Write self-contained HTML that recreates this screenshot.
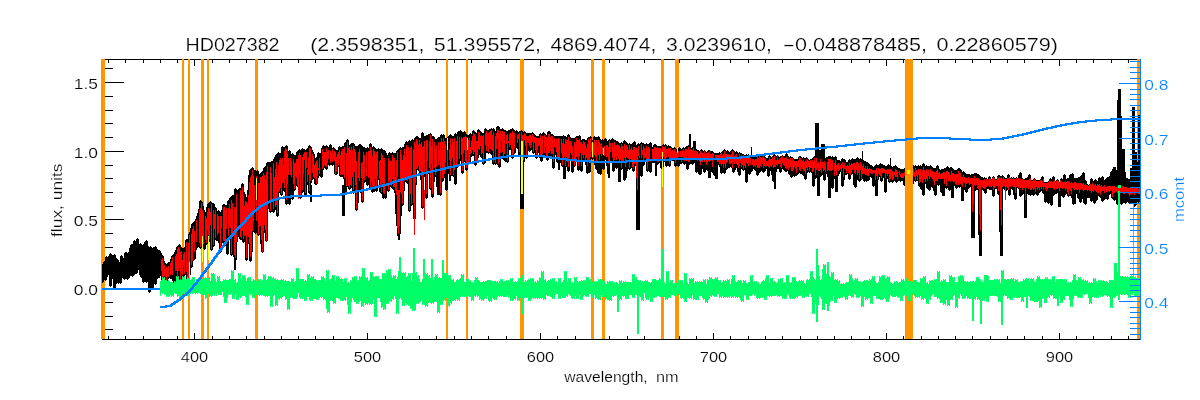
<!DOCTYPE html>
<html lang="en"><head><meta charset="utf-8"><title>HD027382</title>
<style>html,body{margin:0;padding:0;background:#fff;overflow:hidden}svg{display:block}</style></head>
<body>
<svg width="1200" height="400" viewBox="0 0 1200 400" role="img" aria-label="HD027382 spectrum fit">
<rect width="1200" height="400" fill="#fff"/>
<g fill="#000" shape-rendering="crispEdges">
<rect x="102" y="59" width="1038" height="1"/>
<rect x="102" y="339" width="1039" height="1"/>
<rect x="102" y="59" width="1" height="280"/>
<rect x="108" y="59" width="1" height="4"/>
<rect x="108" y="336" width="1" height="3"/>
<rect x="125" y="59" width="1" height="4"/>
<rect x="125" y="336" width="1" height="3"/>
<rect x="143" y="59" width="1" height="4"/>
<rect x="143" y="336" width="1" height="3"/>
<rect x="160" y="59" width="1" height="4"/>
<rect x="160" y="336" width="1" height="3"/>
<rect x="177" y="59" width="1" height="4"/>
<rect x="177" y="336" width="1" height="3"/>
<rect x="194" y="59" width="1" height="7"/>
<rect x="194" y="333" width="1" height="6"/>
<rect x="212" y="59" width="1" height="4"/>
<rect x="212" y="336" width="1" height="3"/>
<rect x="229" y="59" width="1" height="4"/>
<rect x="229" y="336" width="1" height="3"/>
<rect x="246" y="59" width="1" height="4"/>
<rect x="246" y="336" width="1" height="3"/>
<rect x="264" y="59" width="1" height="4"/>
<rect x="264" y="336" width="1" height="3"/>
<rect x="281" y="59" width="1" height="4"/>
<rect x="281" y="336" width="1" height="3"/>
<rect x="298" y="59" width="1" height="4"/>
<rect x="298" y="336" width="1" height="3"/>
<rect x="315" y="59" width="1" height="4"/>
<rect x="315" y="336" width="1" height="3"/>
<rect x="333" y="59" width="1" height="4"/>
<rect x="333" y="336" width="1" height="3"/>
<rect x="350" y="59" width="1" height="4"/>
<rect x="350" y="336" width="1" height="3"/>
<rect x="367" y="59" width="1" height="7"/>
<rect x="367" y="333" width="1" height="6"/>
<rect x="385" y="59" width="1" height="4"/>
<rect x="385" y="336" width="1" height="3"/>
<rect x="402" y="59" width="1" height="4"/>
<rect x="402" y="336" width="1" height="3"/>
<rect x="419" y="59" width="1" height="4"/>
<rect x="419" y="336" width="1" height="3"/>
<rect x="436" y="59" width="1" height="4"/>
<rect x="436" y="336" width="1" height="3"/>
<rect x="454" y="59" width="1" height="4"/>
<rect x="454" y="336" width="1" height="3"/>
<rect x="471" y="59" width="1" height="4"/>
<rect x="471" y="336" width="1" height="3"/>
<rect x="488" y="59" width="1" height="4"/>
<rect x="488" y="336" width="1" height="3"/>
<rect x="506" y="59" width="1" height="4"/>
<rect x="506" y="336" width="1" height="3"/>
<rect x="523" y="59" width="1" height="4"/>
<rect x="523" y="336" width="1" height="3"/>
<rect x="540" y="59" width="1" height="7"/>
<rect x="540" y="333" width="1" height="6"/>
<rect x="557" y="59" width="1" height="4"/>
<rect x="557" y="336" width="1" height="3"/>
<rect x="575" y="59" width="1" height="4"/>
<rect x="575" y="336" width="1" height="3"/>
<rect x="592" y="59" width="1" height="4"/>
<rect x="592" y="336" width="1" height="3"/>
<rect x="609" y="59" width="1" height="4"/>
<rect x="609" y="336" width="1" height="3"/>
<rect x="627" y="59" width="1" height="4"/>
<rect x="627" y="336" width="1" height="3"/>
<rect x="644" y="59" width="1" height="4"/>
<rect x="644" y="336" width="1" height="3"/>
<rect x="661" y="59" width="1" height="4"/>
<rect x="661" y="336" width="1" height="3"/>
<rect x="679" y="59" width="1" height="4"/>
<rect x="679" y="336" width="1" height="3"/>
<rect x="696" y="59" width="1" height="4"/>
<rect x="696" y="336" width="1" height="3"/>
<rect x="713" y="59" width="1" height="7"/>
<rect x="713" y="333" width="1" height="6"/>
<rect x="730" y="59" width="1" height="4"/>
<rect x="730" y="336" width="1" height="3"/>
<rect x="748" y="59" width="1" height="4"/>
<rect x="748" y="336" width="1" height="3"/>
<rect x="765" y="59" width="1" height="4"/>
<rect x="765" y="336" width="1" height="3"/>
<rect x="782" y="59" width="1" height="4"/>
<rect x="782" y="336" width="1" height="3"/>
<rect x="800" y="59" width="1" height="4"/>
<rect x="800" y="336" width="1" height="3"/>
<rect x="817" y="59" width="1" height="4"/>
<rect x="817" y="336" width="1" height="3"/>
<rect x="834" y="59" width="1" height="4"/>
<rect x="834" y="336" width="1" height="3"/>
<rect x="851" y="59" width="1" height="4"/>
<rect x="851" y="336" width="1" height="3"/>
<rect x="869" y="59" width="1" height="4"/>
<rect x="869" y="336" width="1" height="3"/>
<rect x="886" y="59" width="1" height="7"/>
<rect x="886" y="333" width="1" height="6"/>
<rect x="903" y="59" width="1" height="4"/>
<rect x="903" y="336" width="1" height="3"/>
<rect x="921" y="59" width="1" height="4"/>
<rect x="921" y="336" width="1" height="3"/>
<rect x="938" y="59" width="1" height="4"/>
<rect x="938" y="336" width="1" height="3"/>
<rect x="955" y="59" width="1" height="4"/>
<rect x="955" y="336" width="1" height="3"/>
<rect x="972" y="59" width="1" height="4"/>
<rect x="972" y="336" width="1" height="3"/>
<rect x="990" y="59" width="1" height="4"/>
<rect x="990" y="336" width="1" height="3"/>
<rect x="1007" y="59" width="1" height="4"/>
<rect x="1007" y="336" width="1" height="3"/>
<rect x="1024" y="59" width="1" height="4"/>
<rect x="1024" y="336" width="1" height="3"/>
<rect x="1042" y="59" width="1" height="4"/>
<rect x="1042" y="336" width="1" height="3"/>
<rect x="1059" y="59" width="1" height="7"/>
<rect x="1059" y="333" width="1" height="6"/>
<rect x="1076" y="59" width="1" height="4"/>
<rect x="1076" y="336" width="1" height="3"/>
<rect x="1093" y="59" width="1" height="4"/>
<rect x="1093" y="336" width="1" height="3"/>
<rect x="1111" y="59" width="1" height="4"/>
<rect x="1111" y="336" width="1" height="3"/>
<rect x="1128" y="59" width="1" height="4"/>
<rect x="1128" y="336" width="1" height="3"/>
<rect x="102" y="329" width="11" height="1"/>
<rect x="102" y="316" width="11" height="1"/>
<rect x="102" y="302" width="11" height="1"/>
<rect x="102" y="288" width="22" height="1"/>
<rect x="102" y="274" width="11" height="1"/>
<rect x="102" y="261" width="11" height="1"/>
<rect x="102" y="247" width="11" height="1"/>
<rect x="102" y="233" width="11" height="1"/>
<rect x="102" y="219" width="22" height="1"/>
<rect x="102" y="206" width="11" height="1"/>
<rect x="102" y="192" width="11" height="1"/>
<rect x="102" y="178" width="11" height="1"/>
<rect x="102" y="165" width="11" height="1"/>
<rect x="102" y="151" width="22" height="1"/>
<rect x="102" y="137" width="11" height="1"/>
<rect x="102" y="123" width="11" height="1"/>
<rect x="102" y="110" width="11" height="1"/>
<rect x="102" y="96" width="11" height="1"/>
<rect x="102" y="82" width="22" height="1"/>
<rect x="102" y="68" width="11" height="1"/>
</g>
<g fill="#ff9500" shape-rendering="crispEdges">
<rect x="101" y="59" width="4" height="280"/>
<rect x="182" y="59" width="2" height="280"/>
<rect x="188" y="59" width="2" height="280"/>
<rect x="201" y="59" width="3" height="280"/>
<rect x="207" y="59" width="2" height="280"/>
<rect x="255" y="59" width="3" height="280"/>
<rect x="446" y="59" width="2" height="280"/>
<rect x="466" y="59" width="2" height="280"/>
<rect x="520" y="59" width="4" height="280"/>
<rect x="591" y="59" width="3" height="280"/>
<rect x="602" y="59" width="3" height="280"/>
<rect x="661" y="59" width="3" height="280"/>
<rect x="675" y="59" width="4" height="280"/>
<rect x="905" y="59" width="8" height="280"/>
<rect x="1137" y="59" width="4" height="280"/>
</g>
<g fill="none" shape-rendering="crispEdges">
<path d="M102.5 264V283M103.5 262V282M104.5 261V280M105.5 257V281M106.5 256V280M107.5 257V277M108.5 256V275M109.5 254V286M110.5 253V287M111.5 254V286M112.5 255V279M113.5 255V288M114.5 254V289M115.5 255V288M116.5 258V284M117.5 259V283M118.5 260V284M119.5 262V283M120.5 256V284M121.5 255V283M122.5 256V278M123.5 258V279M124.5 253V280M125.5 252V279M126.5 252V279M127.5 253V280M128.5 252V279M129.5 248V278M130.5 245V276M131.5 244V276M132.5 244V277M133.5 241V276M134.5 240V275M135.5 241V274M136.5 239V274M137.5 238V273M138.5 239V270M139.5 244V275M140.5 243V277M141.5 244V278M142.5 245V282M143.5 244V283M144.5 242V282M145.5 241V282M146.5 240V283M147.5 241V282M148.5 246V292M149.5 247V293M150.5 246V292M151.5 247V289M152.5 248V290M153.5 247V289M154.5 247V284M155.5 246V285M156.5 247V284M157.5 249V279M158.5 250V278M159.5 250V278M160.5 251V276M161.5 253V287M162.5 255V288M163.5 256V287M164.5 261V282M165.5 263V285M166.5 264V286M167.5 263V285M168.5 262V279M169.5 262V278M170.5 259V279M171.5 256V279M172.5 255V281M173.5 254V284M174.5 252V285M175.5 250V284M176.5 247V277M177.5 246V278M178.5 245V277M179.5 244V285M180.5 245V286M181.5 247V285M182.5 248V278M183.5 248V277M184.5 247V276M185.5 240V275M186.5 239V283M187.5 239V285M188.5 234V286M189.5 232V285M190.5 228V275M191.5 224V268M192.5 223V267M193.5 222V261M194.5 221V260M195.5 219V259M196.5 216V250M197.5 213V248M198.5 209V247M199.5 201V248M200.5 200V249M201.5 201V248M202.5 202V248M203.5 206V249M204.5 210V250M205.5 212V249M206.5 207V245M207.5 204V244M208.5 203V241M209.5 202V242M210.5 201V250M211.5 202V251M212.5 203V250M213.5 203V247M214.5 204V246M215.5 207V240M216.5 208V241M217.5 211V241M218.5 210V243M219.5 211V252M220.5 212V253M221.5 210V252M222.5 205V243M223.5 204V246M224.5 204V247M225.5 205V246M226.5 205V254M227.5 201V255M228.5 200V254M229.5 198V237M230.5 197V255M231.5 196V256M232.5 195V255M233.5 195V257M234.5 189V260M235.5 188V261M236.5 189V260M237.5 190V242M238.5 189V237M239.5 188V239M240.5 188V240M241.5 184V240M242.5 183V242M243.5 184V243M244.5 192V242M245.5 194V260M246.5 197V261M247.5 190V260M248.5 175V244M249.5 170V261M250.5 169V262M251.5 168V261M252.5 167V252M253.5 168V232M254.5 170V233M255.5 170V234M256.5 171V233M257.5 170V235M258.5 171V236M259.5 174V235M260.5 173V244M261.5 172V252M262.5 171V253M263.5 168V252M264.5 167V233M265.5 166V241M266.5 163V242M267.5 162V241M268.5 162V209M269.5 162V212M270.5 162V213M271.5 161V212M272.5 161V212M273.5 159V213M274.5 157V212M275.5 155V210M276.5 154V216M277.5 153V217M278.5 152V216M279.5 153V193M280.5 153V195M281.5 147V196M282.5 146V195M283.5 147V191M284.5 147V192M285.5 146V204M286.5 145V205M287.5 146V204M288.5 151V204M289.5 150V205M290.5 151V204M291.5 154V199M292.5 153V200M293.5 154V199M294.5 155V191M295.5 155V190M296.5 152V186M297.5 151V187M298.5 150V186M299.5 149V198M300.5 150V199M301.5 149V198M302.5 148V193M303.5 149V192M304.5 149V195M305.5 150V196M306.5 149V195M307.5 148V185M308.5 146V193M309.5 145V194M310.5 146V193M311.5 147V183M312.5 150V180M313.5 152V179M314.5 154V184M315.5 158V185M316.5 157V185M317.5 153V184M318.5 152V178M319.5 153V176M320.5 153V177M321.5 148V178M322.5 146V177M323.5 145V170M324.5 146V168M325.5 146V169M326.5 145V170M327.5 146V169M328.5 147V165M329.5 145V166M330.5 144V165M331.5 145V165M332.5 148V166M333.5 147V165M334.5 148V174M335.5 149V175M336.5 150V175M337.5 150V174M338.5 147V167M339.5 146V176M340.5 147V177M341.5 147V177M342.5 146V177M343.5 146V179M344.5 143V193M345.5 142V194M346.5 140V193M347.5 139V187M348.5 140V189M349.5 145V190M350.5 144V189M351.5 143V188M352.5 143V193M353.5 143V194M354.5 144V193M355.5 146V210M356.5 146V211M357.5 146V210M358.5 145V203M359.5 144V192M360.5 144V193M361.5 145V202M362.5 146V203M363.5 147V202M364.5 147V183M365.5 148V182M366.5 148V185M367.5 147V186M368.5 148V185M369.5 144V189M370.5 143V190M371.5 144V192M372.5 147V193M373.5 146V192M374.5 147V192M375.5 148V191M376.5 149V192M377.5 149V191M378.5 148V180M379.5 149V192M380.5 149V193M381.5 148V194M382.5 149V198M383.5 150V199M384.5 150V198M385.5 151V199M386.5 153V198M387.5 155V191M388.5 153V192M389.5 152V191M390.5 153V187M391.5 153V188M392.5 152V189M393.5 153V190M394.5 153V193M395.5 153V198M396.5 151V199M397.5 150V198M398.5 149V202M399.5 148V203M400.5 147V202M401.5 148V205M402.5 147V206M403.5 147V205M404.5 144V191M405.5 142V182M406.5 141V183M407.5 142V184M408.5 141V211M409.5 140V212M410.5 141V211M411.5 140V206M412.5 139V205M413.5 140V208M414.5 138V209M415.5 137V208M416.5 136V185M417.5 136V170M418.5 137V171M419.5 138V173M420.5 138V180M421.5 133V208M422.5 132V209M423.5 133V208M424.5 136V177M425.5 136V198M426.5 135V199M427.5 135V198M428.5 134V174M429.5 134V189M430.5 133V190M431.5 134V197M432.5 136V198M433.5 136V197M434.5 137V182M435.5 139V177M436.5 139V187M437.5 138V188M438.5 137V187M439.5 137V195M440.5 135V196M441.5 134V195M442.5 135V182M443.5 134V181M444.5 135V178M445.5 138V190M446.5 138V191M447.5 137V190M448.5 136V174M449.5 135V176M450.5 134V177M451.5 135V176M452.5 136V176M453.5 136V177M454.5 134V184M455.5 133V185M456.5 134V184M457.5 132V168M458.5 131V167M459.5 131V166M460.5 130V161M461.5 131V173M462.5 132V174M463.5 132V173M464.5 131V162M465.5 132V170M466.5 134V171M467.5 135V170M468.5 135V165M469.5 134V164M470.5 133V162M471.5 134V157M472.5 131V156M473.5 130V156M474.5 131V165M475.5 132V166M476.5 133V165M477.5 130V163M478.5 129V158M479.5 130V155M480.5 131V157M481.5 132V158M482.5 133V164M483.5 133V165M484.5 129V164M485.5 128V163M486.5 129V153M487.5 130V153M488.5 130V154M489.5 129V153M490.5 129V154M491.5 128V155M492.5 129V164M493.5 128V165M494.5 129V164M495.5 131V165M496.5 127V164M497.5 126V165M498.5 126V167M499.5 127V168M500.5 129V167M501.5 129V156M502.5 128V159M503.5 129V160M504.5 130V161M505.5 130V162M506.5 131V162M507.5 131V163M508.5 130V162M509.5 130V150M510.5 129V150M511.5 129V158M512.5 128V159M513.5 129V158M514.5 130V154M515.5 131V153M516.5 130V148M517.5 131V149M518.5 132V155M519.5 131V156M520.5 131V155M521.5 130V152M522.5 131V162M523.5 132V163M524.5 131V162M525.5 132V158M526.5 133V159M527.5 133V158M528.5 133V151M529.5 133V152M530.5 133V151M531.5 133V150M532.5 132V153M533.5 133V154M534.5 134V153M535.5 135V158M536.5 136V159M537.5 136V158M538.5 136V153M539.5 134V158M540.5 133V161M541.5 134V162M542.5 133V161M543.5 132V157M544.5 133V158M545.5 134V158M546.5 135V160M547.5 132V161M548.5 131V160M549.5 131V157M550.5 132V156M551.5 134V157M552.5 134V168M553.5 135V169M554.5 136V168M555.5 136V155M556.5 136V162M557.5 136V163M558.5 136V163M559.5 136V162M560.5 136V163M561.5 136V166M562.5 136V167M563.5 135V168M564.5 136V167M565.5 136V168M566.5 137V167M567.5 135V171M568.5 134V172M569.5 135V171M570.5 137V161M571.5 138V172M572.5 138V173M573.5 138V172M574.5 138V167M575.5 137V166M576.5 136V160M577.5 136V170M578.5 136V171M579.5 135V170M580.5 136V171M581.5 140V172M582.5 139V171M583.5 139V160M584.5 139V162M585.5 140V165M586.5 140V173M587.5 138V174M588.5 137V173M589.5 137V173M590.5 136V172M591.5 137V159M592.5 140V160M593.5 137V159M594.5 136V165M595.5 137V169M596.5 137V170M597.5 137V173M598.5 136V174M599.5 137V174M600.5 139V175M601.5 140V174M602.5 139V169M603.5 140V170M604.5 139V169M605.5 138V160M606.5 139V166M607.5 141V174M608.5 140V175M609.5 139V174M610.5 140V162M611.5 139V161M612.5 138V171M613.5 139V172M614.5 140V171M615.5 140V168M616.5 141V169M617.5 141V168M618.5 142V166M619.5 143V170M620.5 143V171M621.5 142V170M622.5 143V169M623.5 141V180M624.5 140V181M625.5 141V180M626.5 142V172M627.5 143V171M628.5 144V169M629.5 143V170M630.5 144V169M631.5 144V168M632.5 143V171M633.5 142V172M634.5 141V171M635.5 142V166M636.5 145V165M637.5 144V162M638.5 143V161M639.5 144V169M640.5 143V176M641.5 142V177M642.5 143V176M643.5 143V166M644.5 144V165M645.5 144V160M646.5 143V171M647.5 144V172M648.5 144V171M649.5 143V172M650.5 142V173M651.5 143V172M652.5 147V163M653.5 145V163M654.5 144V163M655.5 144V165M656.5 145V166M657.5 146V165M658.5 146V164M659.5 146V163M660.5 146V168M661.5 146V169M662.5 145V168M663.5 144V167M664.5 145V162M665.5 144V166M666.5 145V167M667.5 146V166M668.5 145V166M669.5 146V167M670.5 146V166M671.5 147V160M672.5 148V161M673.5 148V161M674.5 147V166M675.5 148V167M676.5 149V166M677.5 149V166M678.5 148V167M679.5 147V166M680.5 148V164M681.5 149V164M682.5 148V163M683.5 147V164M684.5 148V165M685.5 147V164M686.5 146V169M687.5 146V170M688.5 145V169M689.5 146V165M690.5 148V164M691.5 148V164M692.5 147V165M693.5 146V164M694.5 147V163M695.5 149V172M696.5 149V173M697.5 150V172M698.5 150V174M699.5 151V175M700.5 150V175M701.5 149V174M702.5 150V169M703.5 151V172M704.5 150V173M705.5 151V172M706.5 152V170M707.5 151V171M708.5 150V170M709.5 150V169M710.5 151V170M711.5 151V172M712.5 151V173M713.5 152V175M714.5 153V176M715.5 153V175M716.5 153V169M717.5 153V165M718.5 153V165M719.5 152V167M720.5 153V173M721.5 152V174M722.5 151V173M723.5 150V173M724.5 149V174M725.5 150V173M726.5 151V170M727.5 150V169M728.5 151V168M729.5 152V168M730.5 151V167M731.5 150V168M732.5 149V172M733.5 150V173M734.5 151V172M735.5 152V170M736.5 151V168M737.5 152V172M738.5 153V175M739.5 152V176M740.5 153V175M741.5 153V169M742.5 154V170M743.5 154V171M744.5 155V170M745.5 155V182M746.5 154V183M747.5 155V182M748.5 154V174M749.5 155V175M750.5 156V174M751.5 156V172M752.5 157V171M753.5 157V169M754.5 157V170M755.5 157V171M756.5 156V175M757.5 155V176M758.5 155V175M759.5 154V173M760.5 155V172M761.5 156V171M762.5 155V172M763.5 154V173M764.5 155V172M765.5 157V171M766.5 158V169M767.5 158V176M768.5 156V177M769.5 155V176M770.5 156V171M771.5 157V175M772.5 156V181M773.5 155V182M774.5 154V181M775.5 155V173M776.5 156V172M777.5 155V169M778.5 156V169M779.5 157V172M780.5 156V173M781.5 156V172M782.5 155V169M783.5 156V170M784.5 156V171M785.5 154V172M786.5 153V172M787.5 154V171M788.5 156V174M789.5 157V175M790.5 156V177M791.5 157V178M792.5 157V177M793.5 158V176M794.5 159V177M795.5 159V176M796.5 159V176M797.5 159V175M798.5 157V174M799.5 156V173M800.5 156V174M801.5 157V174M802.5 158V175M803.5 157V176M804.5 158V179M805.5 158V180M806.5 157V179M807.5 158V173M808.5 159V172M809.5 160V173M810.5 159V172M811.5 159V173M812.5 158V186M813.5 157V187M814.5 156V186M815.5 157V179M816.5 156V178M817.5 157V174M818.5 160V174M819.5 157V176M820.5 156V177M821.5 157V176M822.5 159V175M823.5 159V180M824.5 158V181M825.5 158V180M826.5 157V174M827.5 157V177M828.5 156V178M829.5 156V177M830.5 156V178M831.5 157V188M832.5 156V189M833.5 157V188M834.5 157V179M835.5 156V178M836.5 157V178M837.5 160V177M838.5 160V176M839.5 160V174M840.5 161V172M841.5 159V186M842.5 158V187M843.5 159V186M844.5 159V180M845.5 160V175M846.5 162V175M847.5 162V174M848.5 160V179M849.5 159V180M850.5 160V179M851.5 159V175M852.5 158V174M853.5 159V185M854.5 159V187M855.5 159V188M856.5 158V187M857.5 157V180M858.5 158V181M859.5 159V182M860.5 158V181M861.5 159V180M862.5 161V179M863.5 160V181M864.5 161V182M865.5 161V181M866.5 162V182M867.5 162V181M868.5 163V181M869.5 164V180M870.5 165V177M871.5 165V178M872.5 166V186M873.5 167V187M874.5 166V186M875.5 165V184M876.5 164V183M877.5 165V181M878.5 165V180M879.5 164V177M880.5 163V181M881.5 164V182M882.5 164V181M883.5 165V178M884.5 165V192M885.5 166V193M886.5 166V192M887.5 165V179M888.5 164V182M889.5 165V183M890.5 165V182M891.5 166V182M892.5 167V183M893.5 166V182M894.5 166V181M895.5 165V182M896.5 166V183M897.5 167V182M898.5 168V181M899.5 168V181M900.5 169V182M901.5 169V181M902.5 169V181M903.5 169V185M904.5 168V186M905.5 169V190M906.5 169V191M907.5 168V190M908.5 168V191M909.5 167V192M910.5 167V191M911.5 168V184M912.5 166V185M913.5 165V184M914.5 166V181M915.5 165V182M916.5 166V181M917.5 166V181M918.5 165V186M919.5 166V187M920.5 165V189M921.5 166V190M922.5 164V195M923.5 163V196M924.5 164V195M925.5 166V184M926.5 165V188M927.5 166V189M928.5 166V190M929.5 166V191M930.5 165V190M931.5 166V187M932.5 167V188M933.5 168V191M934.5 168V195M935.5 168V196M936.5 166V195M937.5 165V185M938.5 166V186M939.5 169V185M940.5 170V192M941.5 169V193M942.5 169V192M943.5 169V185M944.5 168V186M945.5 168V188M946.5 167V189M947.5 166V188M948.5 167V190M949.5 168V191M950.5 167V190M951.5 167V184M952.5 168V184M953.5 169V185M954.5 170V186M955.5 170V188M956.5 170V189M957.5 169V188M958.5 168V187M959.5 168V188M960.5 169V187M961.5 170V189M962.5 172V190M963.5 171V191M964.5 172V190M965.5 173V192M966.5 174V193M967.5 174V192M968.5 174V189M969.5 174V188M970.5 175V187M971.5 174V186M972.5 174V187M973.5 174V186M974.5 173V190M975.5 173V191M976.5 173V190M977.5 174V190M978.5 174V191M979.5 175V191M980.5 176V190M981.5 177V190M982.5 177V190M983.5 178V191M984.5 177V193M985.5 178V194M986.5 178V193M987.5 179V189M988.5 177V189M989.5 176V190M990.5 177V190M991.5 179V190M992.5 177V196M993.5 176V197M994.5 177V196M995.5 179V189M996.5 179V189M997.5 176V194M998.5 175V195M999.5 175V194M1000.5 176V193M1001.5 176V192M1002.5 175V190M1003.5 176V189M1004.5 177V190M1005.5 178V191M1006.5 178V191M1007.5 175V190M1008.5 174V195M1009.5 175V196M1010.5 178V195M1011.5 177V189M1012.5 178V190M1013.5 177V195M1014.5 178V199M1015.5 178V200M1016.5 177V199M1017.5 178V188M1018.5 175V189M1019.5 173V196M1020.5 172V197M1021.5 173V196M1022.5 178V195M1023.5 179V194M1024.5 179V191M1025.5 178V190M1026.5 178V191M1027.5 177V194M1028.5 175V195M1029.5 174V195M1030.5 175V196M1031.5 180V195M1032.5 180V195M1033.5 179V196M1034.5 178V195M1035.5 179V194M1036.5 180V195M1037.5 180V196M1038.5 180V195M1039.5 180V193M1040.5 179V192M1041.5 177V191M1042.5 176V193M1043.5 177V194M1044.5 182V202M1045.5 182V203M1046.5 182V202M1047.5 182V203M1048.5 181V204M1049.5 179V203M1050.5 178V205M1051.5 179V206M1052.5 177V205M1053.5 176V196M1054.5 177V195M1055.5 181V194M1056.5 180V194M1057.5 179V193M1058.5 180V192M1059.5 182V193M1060.5 179V195M1061.5 178V196M1062.5 179V197M1063.5 175V198M1064.5 174V197M1065.5 175V195M1066.5 179V194M1067.5 178V196M1068.5 178V197M1069.5 175V196M1070.5 174V196M1071.5 174V198M1072.5 173V204M1073.5 174V205M1074.5 178V204M1075.5 178V193M1076.5 178V194M1077.5 178V198M1078.5 177V199M1079.5 177V202M1080.5 176V203M1081.5 175V202M1082.5 173V199M1083.5 172V203M1084.5 173V204M1085.5 180V205M1086.5 181V204M1087.5 184V198M1088.5 185V198M1089.5 184V198M1090.5 179V201M1091.5 178V202M1092.5 179V201M1093.5 181V203M1094.5 180V204M1095.5 179V203M1096.5 180V201M1097.5 181V200M1098.5 178V196M1099.5 177V197M1100.5 178V198M1101.5 177V201M1102.5 176V202M1103.5 177V201M1104.5 180V200M1105.5 179V199M1106.5 178V199M1107.5 177V200M1108.5 177V199M1109.5 176V195M1110.5 176V194M1111.5 171V198M1112.5 169V199M1113.5 168V200M1114.5 169V201M1115.5 171V200M1116.5 170V204M1117.5 171V205M1118.5 171V204M1119.5 170V203M1120.5 171V204M1121.5 177V205M1122.5 177V204M1123.5 172V203M1124.5 171V203M1125.5 172V204M1126.5 178V203M1127.5 178V202M1128.5 179V203M1129.5 179V204M1130.5 178V203M1131.5 177V204M1132.5 176V203M1133.5 177V206M1134.5 180V207M1135.5 178V206M1136.5 177V205M1137.5 178V202M1138.5 184V203M1139.5 183V202M1140.5 182V196" stroke="#000" stroke-width="1"/>
<path d="M637.5 150V230" stroke="#000" stroke-width="4"/>
<path d="M522 150V209" stroke="#000" stroke-width="4"/>
<path d="M973 180V237.5" stroke="#000" stroke-width="4"/>
<path d="M980.5 180V256" stroke="#000" stroke-width="3"/>
<path d="M980 180V235" stroke="#000" stroke-width="4"/>
<path d="M1001.3 180V256" stroke="#000" stroke-width="3"/>
<path d="M1001 180V232" stroke="#000" stroke-width="4"/>
<path d="M395.5 190V214" stroke="#000" stroke-width="1"/>
<path d="M396.5 190V226" stroke="#000" stroke-width="1"/>
<path d="M397.5 190V236" stroke="#000" stroke-width="1"/>
<path d="M398.5 190V240" stroke="#000" stroke-width="1"/>
<path d="M399.5 190V240" stroke="#000" stroke-width="1"/>
<path d="M400.5 190V234" stroke="#000" stroke-width="1"/>
<path d="M401.5 190V216" stroke="#000" stroke-width="1"/>
<path d="M414 190V219" stroke="#000" stroke-width="3"/>
<path d="M817 123V165" stroke="#000" stroke-width="4"/>
<path d="M823 144V165" stroke="#000" stroke-width="4"/>
<path d="M820 150V165" stroke="#000" stroke-width="10"/>
<path d="M689.5 134V150" stroke="#000" stroke-width="2"/>
<path d="M694 141V150" stroke="#000" stroke-width="3"/>
<path d="M1119.5 89V190" stroke="#000" stroke-width="3"/>
<path d="M1119 100V190" stroke="#000" stroke-width="4"/>
<path d="M1119.5 116V190" stroke="#000" stroke-width="5"/>
<path d="M1121 149V190" stroke="#000" stroke-width="8"/>
<path d="M1114.5 167V190" stroke="#000" stroke-width="3"/>
<path d="M1111.5 172V190" stroke="#000" stroke-width="3"/>
<path d="M1133.5 107V197" stroke="#000" stroke-width="3"/>
<path d="M1139 115V196" stroke="#000" stroke-width="2"/>
<path d="M1136 152V197" stroke="#000" stroke-width="2"/>
<path d="M1137.5 162V196" stroke="#000" stroke-width="1"/>
<path d="M1130.5 168V197" stroke="#000" stroke-width="2"/>
<path d="M1025.5 185V218" stroke="#000" stroke-width="3"/>
<path d="M862.5 151V165" stroke="#000" stroke-width="1"/>
<path d="M890.5 158V168" stroke="#000" stroke-width="1"/>
<path d="M751 147V156" stroke="#000" stroke-width="1"/>
<path d="M343.5 185V216" stroke="#000" stroke-width="3"/>
<path d="M310.5 185V202" stroke="#000" stroke-width="2"/>
<path d="M234.5 240V270" stroke="#000" stroke-width="2"/>
<path d="M432 170V195" stroke="#000" stroke-width="2"/>
<path d="M438 170V195" stroke="#000" stroke-width="2"/>
<path d="M450 160V181" stroke="#000" stroke-width="2"/>
<path d="M559 150V170" stroke="#000" stroke-width="2"/>
<path d="M564 150V179" stroke="#000" stroke-width="3"/>
<path d="M609 160V178" stroke="#000" stroke-width="2"/>
<path d="M619 160V182" stroke="#000" stroke-width="3"/>
<path d="M626 160V178" stroke="#000" stroke-width="2"/>
<path d="M656 160V176" stroke="#000" stroke-width="2"/>
<path d="M709 160V177.5" stroke="#000" stroke-width="3"/>
<path d="M716 160V179" stroke="#000" stroke-width="3"/>
<path d="M775 165V189" stroke="#000" stroke-width="2"/>
<path d="M818.5 165V196" stroke="#000" stroke-width="3"/>
<path d="M829 165V198" stroke="#000" stroke-width="3"/>
<path d="M836 165V191.5" stroke="#000" stroke-width="3"/>
<path d="M876 170V196" stroke="#000" stroke-width="3"/>
<path d="M943 175V196" stroke="#000" stroke-width="3"/>
<path d="M952.5 175V198" stroke="#000" stroke-width="3"/>
<path d="M962 178V201" stroke="#000" stroke-width="3"/>
<path d="M1059.5 185V207" stroke="#000" stroke-width="3"/>
<path d="M1074.5 185V204" stroke="#000" stroke-width="3"/>
<path d="M161.5 259V271M162.5 258V284M163.5 263V277M164.5 265V276M165.5 269V277M166.5 267V283M167.5 268V276M168.5 266V277M170.5 263V275M171.5 261V274M172.5 257V275M175.5 256V271M176.5 254V271M177.5 249V276M178.5 247V271M179.5 248V268M180.5 252V284M181.5 251V273M182.5 260V275M183.5 254V267M184.5 252V274M186.5 242V272M187.5 262V281M188.5 243V280M189.5 235V267M191.5 234V265M192.5 229V261M193.5 226V242M194.5 231V252M196.5 220V242M199.5 210V243M200.5 208V247M201.5 203V244M202.5 210V246M203.5 213V244M205.5 216V240M206.5 218V243M207.5 212V230M208.5 208V235M209.5 209V239M210.5 212V225M211.5 204V249M213.5 210V245M214.5 214V229M215.5 210V238M217.5 214V235M218.5 216V233M220.5 216V248M221.5 216V228M223.5 207V241M224.5 207V241M225.5 210V240M226.5 208V229M228.5 208V236M229.5 204V226M230.5 209V228M231.5 200V254M232.5 203V235M234.5 207V255M235.5 208V258M236.5 194V242M240.5 190V237M241.5 194V238M242.5 187V231M243.5 196V239M244.5 206V236M245.5 201V235M246.5 202V258M247.5 204V235M248.5 195V237M249.5 182V243M250.5 177V257M251.5 175V251M252.5 170V231M253.5 176V222M254.5 185V212M256.5 176V221M258.5 183V234M259.5 183V227M260.5 177V226M261.5 177V240M262.5 176V252M263.5 173V231M264.5 175V225M265.5 179V230M266.5 172V241M267.5 166V208M270.5 167V211M271.5 173V202M273.5 163V209M274.5 177V201M275.5 169V207M276.5 162V205M277.5 175V213M278.5 165V192M279.5 160V191M280.5 158V188M281.5 160V194M282.5 158V183M283.5 165V182M284.5 151V188M285.5 148V179M286.5 149V200M287.5 154V184M288.5 158V175M290.5 158V175M291.5 161V177M293.5 159V184M294.5 163V189M295.5 163V176M296.5 159V178M297.5 159V185M298.5 155V182M299.5 153V174M300.5 155V195M302.5 157V190M303.5 154V174M304.5 152V160M305.5 153V193M306.5 152V168M307.5 169V182M308.5 157V175M309.5 148V191M310.5 148V181M312.5 154V173M313.5 156V177M314.5 165V178M315.5 163V179M316.5 161V184M317.5 160V176M318.5 168V170M319.5 158V174M322.5 149V169M323.5 152V167M324.5 152V165M325.5 152V166M326.5 148V167M327.5 152V163M328.5 150V159M330.5 151V163M331.5 153V161M332.5 149V162M333.5 153V159M334.5 151V161M335.5 152V174M336.5 157V172M337.5 154V163M338.5 152V165M339.5 150V159M340.5 155V175M341.5 151V174M342.5 149V175M343.5 149V174M344.5 147V178M346.5 153V186M347.5 142V176M348.5 148V186M349.5 147V188M350.5 150V185M351.5 147V186M352.5 150V177M353.5 146V190M354.5 149V172M355.5 152V185M356.5 161V209M358.5 152V178M359.5 149V181M361.5 163V178M362.5 162V201M363.5 152V178M364.5 155V180M365.5 170V172M366.5 152V176M368.5 151V178M369.5 151V177M370.5 147V187M371.5 150V182M372.5 156V189M373.5 149V186M374.5 151V189M375.5 154V179M376.5 152V187M377.5 151V176M379.5 161V179M380.5 160V187M381.5 153V192M382.5 155V183M383.5 158V193M384.5 158V194M388.5 158V190M389.5 160V181M390.5 161V184M391.5 161V186M392.5 155V179M393.5 157V187M394.5 158V187M395.5 177V191M396.5 160V195M397.5 152V177M400.5 150V192M401.5 154V194M402.5 160V204M403.5 155V190M404.5 149V181M405.5 157V177M406.5 145V177M407.5 147V181M408.5 147V176M409.5 151V210M410.5 148V194M411.5 146V204M413.5 149V203M414.5 142V205M415.5 144V183M416.5 139V169M417.5 141V168M418.5 145V166M419.5 140V171M420.5 144V171M421.5 142V176M422.5 147V207M423.5 146V168M424.5 141V174M426.5 140V194M427.5 140V161M429.5 141V168M430.5 135V188M431.5 146V164M432.5 139V194M434.5 142V168M435.5 148V175M436.5 145V167M438.5 142V165M439.5 150V160M440.5 142V193M441.5 138V166M442.5 142V178M443.5 138V178M444.5 141V174M445.5 144V163M447.5 140V168M449.5 149V160M450.5 138V175M451.5 145V161M452.5 139V158M453.5 142V175M454.5 138V170M456.5 141V167M457.5 136V161M459.5 137V159M461.5 137V155M462.5 138V171M463.5 137V153M464.5 137V150M465.5 136V161M466.5 137V168M468.5 140V163M469.5 138V161M470.5 147V154M471.5 141V153M472.5 136V150M473.5 133V154M474.5 134V152M475.5 136V161M476.5 141V161M477.5 141V155M478.5 132V149M479.5 133V150M480.5 136V146M481.5 135V154M482.5 136V153M483.5 135V163M485.5 133V145M486.5 131V151M487.5 134V146M488.5 133V152M489.5 132V148M490.5 131V149M491.5 130V150M492.5 135V151M493.5 132V162M495.5 136V163M496.5 133V149M497.5 130V139M498.5 130V164M499.5 133V162M500.5 131V153M501.5 134V141M502.5 131V152M503.5 132V158M504.5 132V154M506.5 135V144M507.5 134V161M508.5 141V143M509.5 134V147M510.5 133V145M511.5 134V149M512.5 131V157M513.5 133V153M514.5 133V149M517.5 135V143M518.5 134V139M519.5 133V152M521.5 132V144M522.5 135V151M523.5 135V160M524.5 133V140M525.5 134V146M526.5 136V157M527.5 136V142M528.5 136V143M529.5 135V146M530.5 135V148M531.5 136V145M532.5 134V142M533.5 136V152M534.5 137V143M535.5 137V150M536.5 138V157M537.5 138V150M538.5 138V146M539.5 138V146M540.5 135V155M541.5 138V157M542.5 136V154M544.5 135V153M545.5 137V147M546.5 137V156M547.5 138V156M548.5 134V153M549.5 134V153M550.5 137V151M551.5 136V154M552.5 136V154M553.5 140V162M554.5 138V147M555.5 141V148M556.5 139V152M557.5 139V159M558.5 138V160M559.5 139V160M561.5 139V153M562.5 143V165M563.5 139V160M564.5 144V157M565.5 139V166M566.5 140V157M567.5 140V162M568.5 137V167M569.5 142V158M570.5 141V153M571.5 141V155M572.5 146V162M574.5 142V166M575.5 144V159M576.5 138V157M577.5 140V157M578.5 140V166M579.5 139V156M580.5 142V153M581.5 142V166M582.5 144V155M583.5 141V158M584.5 142V155M585.5 145V160M586.5 148V158M587.5 144V166M588.5 139V162M589.5 140V160M590.5 138V157M591.5 143V152M592.5 145V158M593.5 143V157M594.5 140V155M595.5 142V157M596.5 140V163M597.5 146V152M598.5 140V155M599.5 142V160M600.5 144V154M601.5 143V156M602.5 147V154M604.5 146V156M606.5 145V157M607.5 145V157M608.5 147V164M609.5 141V161M610.5 143V152M612.5 143V158M613.5 147V161M614.5 142V160M615.5 145V157M616.5 145V160M617.5 144V156M618.5 145V159M619.5 146V163M620.5 148V160M621.5 144V168M622.5 146V162M623.5 150V161M624.5 144V158M625.5 146V167M626.5 145V157M627.5 147V158M628.5 150V159M629.5 145V168M630.5 149V159M631.5 147V162M632.5 150V167M633.5 147V169M634.5 147V164M635.5 148V163M636.5 148V161M637.5 151V159M638.5 146V156M639.5 156V158M641.5 144V158M642.5 150V155M643.5 146V161M644.5 148V158M645.5 153V157M646.5 146V159M647.5 149V169M648.5 147V162M649.5 148V160M652.5 149V160M653.5 149V161M654.5 147V161M655.5 147V161M656.5 148V159M657.5 147V162M658.5 148V162M659.5 148V158M660.5 148V161M661.5 150V157M662.5 146V163M663.5 147V157M664.5 147V159M665.5 146V160M666.5 149V158M667.5 149V154M668.5 148V157M669.5 148V164M670.5 148V160M671.5 151V158M672.5 150V159M673.5 151V159M674.5 149V159M675.5 151V163M676.5 152V160M677.5 151V160M678.5 151V157M680.5 151V157M681.5 151V162M682.5 150V157M683.5 149V160M684.5 151V161M685.5 149V160M686.5 149V161M687.5 150V156M688.5 147V162M689.5 150V162M690.5 149V160M691.5 150V160M692.5 150V160M693.5 148V160M694.5 151V160M695.5 150V160M696.5 151V159M697.5 152V161M698.5 154V158M699.5 153V158M700.5 151V165M701.5 152V161M702.5 153V162M703.5 153V160M704.5 151V162M705.5 154V159M706.5 153V165M707.5 153V163M708.5 152V161M709.5 151V162M710.5 154V161M711.5 154V159M712.5 153V167M713.5 154V160M715.5 155V158M716.5 155V160M717.5 155V162M718.5 155V162M719.5 155V164M720.5 154V164M721.5 153V166M722.5 155V164M723.5 154V168M724.5 151V164M725.5 154V168M726.5 154V163M727.5 155V162M728.5 154V160M729.5 155V164M730.5 155V164M731.5 154V163M732.5 151V168M733.5 152V162M734.5 156V164M735.5 155V162M736.5 154V164M737.5 157V165M738.5 157V168M739.5 154V166M740.5 157V163M741.5 155V167M742.5 156V165M743.5 155V169M744.5 156V166M745.5 156V168M746.5 158V163M747.5 158V164M748.5 155V166M749.5 158V163M750.5 158V165M752.5 159V165M753.5 159V167M754.5 160V166M755.5 159V167M756.5 159V165M757.5 156V168M758.5 158V168M759.5 156V168M760.5 157V166M761.5 158V167M762.5 157V164M763.5 156V168M764.5 158V166M765.5 159V167M766.5 161V166M767.5 161V166M768.5 160V167M769.5 157V168M770.5 159V166M771.5 159V167M772.5 157V165M773.5 159V168M774.5 156V167M775.5 160V167M776.5 160V165M777.5 156V166M778.5 160V164M779.5 159V164M780.5 158V167M781.5 157V168M782.5 156V163M783.5 158V165M784.5 158V166M785.5 158V168M786.5 157V169M787.5 159V168M788.5 159V170M789.5 159V168M790.5 158V167M791.5 160V171M792.5 158V171M793.5 160V170M794.5 161V167M795.5 161V169M796.5 161V173M797.5 162V167M798.5 160V167M799.5 157V170M800.5 158V171M801.5 160V167M802.5 161V169M803.5 159V171M804.5 162V171M805.5 161V174M806.5 159V168M807.5 160V170M808.5 161V167M809.5 161V171M810.5 160V168M811.5 161V168M812.5 160V172M813.5 162V171M814.5 158V168M815.5 161V175M816.5 158V170M817.5 163V168M818.5 162V171M819.5 163V171M820.5 159V170M821.5 162V173M822.5 162V168M823.5 162V171M824.5 161V170M825.5 163V172M827.5 162V171M828.5 159V170M829.5 159V171M830.5 159V171M831.5 161V171M832.5 160V170M834.5 163V176M835.5 160V171M836.5 165V175M837.5 164V169M838.5 163V171M839.5 166V170M840.5 165V169M841.5 164V172M842.5 162V168M843.5 165V177M844.5 163V169M845.5 166V170M846.5 166V173M847.5 165V171M848.5 166V173M849.5 163V174M850.5 165V175M851.5 163V173M852.5 164V170M853.5 163V169M854.5 163V173M855.5 164V174M856.5 162V170M857.5 162V175M858.5 163V173M859.5 166V179M860.5 162V170M861.5 164V179M862.5 166V174M863.5 164V173M864.5 168V174M865.5 166V175M866.5 169V175M867.5 166V176M868.5 169V176M869.5 168V172M870.5 169V173M871.5 169V174M872.5 170V174M873.5 170V172M874.5 170V173M875.5 170V180M876.5 168V176M877.5 170V179M878.5 168V174M879.5 169V175M880.5 169V176M881.5 168V178M882.5 168V173M883.5 168V173M884.5 169V173M885.5 170V178M886.5 170V174M887.5 169V176M888.5 169V174M889.5 170V181M890.5 169V179M891.5 170V177M892.5 171V180M893.5 172V180M894.5 172V175M895.5 169V177M896.5 170V177M897.5 172V179M898.5 172V173M899.5 171V175M900.5 174V177M901.5 173V178M902.5 173V178M903.5 173V178M904.5 172V176M905.5 173V177M906.5 174V177M907.5 172V181M908.5 173V178M909.5 171V177M910.5 171V178M911.5 172V178M912.5 171V182M913.5 169V176M914.5 172V177M915.5 168V180M916.5 170V176M917.5 171V180M918.5 169V175M919.5 171V183M920.5 169V182M921.5 172V179M922.5 170V183M923.5 167V180M924.5 170V179M925.5 172V182M926.5 169V179M927.5 171V181M928.5 170V176M929.5 173V179M930.5 169V177M931.5 171V178M932.5 171V179M933.5 172V181M934.5 172V185M935.5 173V181M936.5 171V181M937.5 169V181M938.5 173V179M939.5 172V178M940.5 174V179M941.5 173V179M942.5 173V179M943.5 172V178M944.5 172V184M945.5 173V179M946.5 171V186M947.5 171V179M948.5 172V181M949.5 173V181M950.5 175V182M951.5 171V180M952.5 173V181M953.5 173V182M954.5 174V182M955.5 175V184M956.5 174V185M957.5 174V183M958.5 171V185M959.5 173V183M960.5 173V184M961.5 176V185M962.5 177V187M963.5 175V182M964.5 177V183M965.5 178V187M966.5 178V184M967.5 178V183M968.5 177V183M969.5 179V185M970.5 178V184M971.5 178V184M972.5 178V184M973.5 178V180M974.5 176V185M975.5 179V186M976.5 178V185M977.5 178V188M978.5 178V189M979.5 181V186M980.5 180V186M981.5 181V186M982.5 180V187M983.5 181V188M984.5 179V189M985.5 181V188M986.5 179V187M987.5 180V186M988.5 180V186M989.5 178V187M990.5 179V187M991.5 180V187M992.5 178V186M993.5 177V190M994.5 178V188M995.5 180V187M996.5 180V186M997.5 177V186M998.5 178V191M999.5 177V186M1000.5 178V190M1001.5 177V189M1002.5 179V187M1003.5 177V186M1004.5 179V186M1005.5 179V188M1006.5 179V187M1007.5 178V188M1008.5 178V190M1009.5 177V186M1010.5 179V187M1011.5 178V186M1012.5 179V186M1013.5 178V187M1014.5 179V187M1015.5 179V193M1016.5 178V187M1017.5 179V186M1018.5 178V188M1019.5 179V187M1020.5 179V188M1021.5 180V188M1022.5 179V190M1023.5 180V188M1024.5 180V188M1025.5 180V186M1026.5 180V188M1027.5 180V186M1028.5 180V189M1029.5 179V187M1030.5 178V190M1031.5 181V190M1032.5 181V188M1033.5 180V190M1034.5 179V189M1035.5 180V192M1036.5 181V187M1037.5 181V190M1038.5 181V188M1039.5 181V190M1040.5 180V187M1041.5 180V189M1042.5 181V187M1043.5 179V190M1044.5 183V187M1045.5 183V189M1046.5 183V191M1047.5 183V189M1048.5 182V188M1049.5 181V188M1050.5 181V188M1051.5 181V188M1052.5 182V188M1053.5 181V189M1054.5 180V190M1055.5 182V188M1056.5 181V189M1057.5 180V189M1058.5 181V188M1059.5 183V191M1060.5 180V188M1061.5 182V188M1062.5 182V189M1063.5 182V188M1064.5 182V188M1065.5 181V190M1066.5 182V189M1067.5 181V192M1068.5 181V195M1069.5 182V189M1070.5 183V191M1071.5 182V194M1072.5 183V188M1073.5 183V189M1074.5 182V190M1075.5 182V189M1076.5 183V190M1077.5 183V190M1078.5 183V189M1079.5 184V193M1080.5 183V190M1081.5 183V189M1082.5 184V190M1083.5 183V191M1084.5 185V190M1085.5 184V190M1086.5 185V190M1087.5 185V191M1088.5 186V190M1089.5 185V191M1090.5 184V191M1091.5 185V193M1092.5 183V191M1093.5 184V192M1094.5 185V190M1095.5 184V191M1096.5 186V192M1097.5 184V193M1098.5 185V193M1099.5 184V191M1100.5 186V195M1101.5 185V192M1102.5 187V191M1103.5 186V191M1104.5 185V193M1105.5 187V190M1106.5 187V192M1107.5 186V192M1108.5 186V191M1109.5 186V192M1110.5 186V191M1111.5 187V191M1112.5 186V197M1113.5 186V194M1114.5 186V193M1115.5 187V192M1116.5 187V192M1117.5 186V193M1118.5 186V192M1119.5 186V192M1120.5 187V192M1121.5 186V192M1122.5 186V192M1123.5 186V194M1124.5 187V194M1125.5 187V192M1126.5 187V192M1127.5 188V193M1128.5 188V194M1129.5 188V196M1130.5 188V195M1131.5 188V194M1132.5 187V194M1133.5 189V193M1134.5 188V195M1135.5 188V193M1136.5 188V193M1137.5 188V193M1138.5 189V194M1139.5 187V194M1140.5 187V195" stroke="#ff0000" stroke-width="1"/>
<path d="M397.5 190V228" stroke="#ff0000" stroke-width="1"/>
<path d="M398.5 190V234" stroke="#ff0000" stroke-width="1"/>
<path d="M399.5 190V226" stroke="#ff0000" stroke-width="1"/>
<path d="M414.5 190V234.5" stroke="#ff0000" stroke-width="1"/>
<path d="M424.5 190V220" stroke="#ff0000" stroke-width="1"/>
<path d="M972.5 180V212" stroke="#ff0000" stroke-width="1"/>
<path d="M973.5 180V205" stroke="#ff0000" stroke-width="1"/>
<path d="M980.5 180V231" stroke="#ff0000" stroke-width="1"/>
<path d="M979.5 180V215" stroke="#ff0000" stroke-width="1"/>
<path d="M637.5 150V190" stroke="#ff0000" stroke-width="1"/>
<path d="M636.5 150V178" stroke="#ff0000" stroke-width="1"/>
<path d="M1001.5 180V225" stroke="#ff0000" stroke-width="1"/>
<path d="M1000.5 180V210" stroke="#ff0000" stroke-width="1"/>
<path d="M1005.5 180V200" stroke="#ff0000" stroke-width="1"/>
<path d="M1025.5 185V200" stroke="#ff0000" stroke-width="1"/>
<path d="M298.5 180V199" stroke="#ff0000" stroke-width="1"/>
<path d="M189 262V278" stroke="#ffff00" stroke-width="1"/>
<path d="M202.5 236V262" stroke="#ffff00" stroke-width="1"/>
<path d="M208 236V260" stroke="#ffff00" stroke-width="1"/>
<path d="M256.5 178V200" stroke="#ffff00" stroke-width="1"/>
<path d="M447 138V150" stroke="#ffff00" stroke-width="1"/>
<path d="M467 138V150" stroke="#ffff00" stroke-width="1"/>
<path d="M522 141V194" stroke="#ffff00" stroke-width="2"/>
<path d="M592.5 142V157" stroke="#ffff00" stroke-width="1"/>
<path d="M603.5 148V155" stroke="#ffff00" stroke-width="1"/>
<path d="M662.5 152V187" stroke="#ffff00" stroke-width="1"/>
<path d="M677.5 147V153" stroke="#ffff00" stroke-width="1"/>
<rect x="905" y="59" width="8" height="280" fill="#ff9500"/>
<rect x="907" y="170" width="3" height="4" fill="#ffff00"/>
<path d="M102 289H1140" stroke="#0080ff" stroke-width="2"/>
<path d="M160.5 281V296M161.5 280V293M162.5 277V294M163.5 278V293M164.5 277V295M165.5 280V294M166.5 280V297M167.5 281V296M168.5 280V297M169.5 281V296M170.5 282V295M171.5 282V297M172.5 282V296M173.5 283V297M174.5 281V293M175.5 282V294M176.5 276V294M177.5 277V297M178.5 276V296M179.5 280V299M180.5 279V298M181.5 280V299M182.5 276V294M183.5 277V294M184.5 276V296M185.5 280V296M186.5 279V296M187.5 277V296M188.5 278V296M189.5 277V295M190.5 280V294M191.5 279V293M192.5 277V294M193.5 278V293M194.5 277V293M195.5 282V294M196.5 279V293M197.5 280V294M198.5 278V293M199.5 279V293M200.5 278V294M201.5 279V293M202.5 279V295M203.5 277V294M204.5 278V295M205.5 277V299M206.5 278V298M207.5 277V299M208.5 278V294M209.5 277V297M210.5 281V296M211.5 273V297M212.5 274V296M213.5 273V294M214.5 274V296M215.5 279V295M216.5 282V296M217.5 276V293M218.5 277V295M219.5 276V295M220.5 281V295M221.5 282V295M222.5 281V292M223.5 279V297M224.5 280V303M225.5 279V302M226.5 280V303M227.5 280V298M228.5 280V295M229.5 279V294M230.5 279V295M231.5 270V293M232.5 271V299M233.5 270V298M234.5 280V299M235.5 279V294M236.5 283V300M237.5 282V299M238.5 273V300M239.5 274V297M240.5 273V298M241.5 279V297M242.5 275V296M243.5 276V296M244.5 275V296M245.5 277V297M246.5 281V305M247.5 278V304M248.5 277V305M249.5 278V294M250.5 277V295M251.5 281V294M252.5 281V298M253.5 279V297M254.5 280V298M255.5 279V297M256.5 281V295M257.5 280V296M258.5 279V295M259.5 280V296M260.5 279V295M261.5 281V296M262.5 280V295M263.5 274V296M264.5 275V296M265.5 274V297M266.5 280V296M267.5 279V297M268.5 276V296M269.5 277V296M270.5 276V307M271.5 277V306M272.5 278V307M273.5 277V296M274.5 279V295M275.5 278V306M276.5 280V305M277.5 279V306M278.5 280V299M279.5 281V300M280.5 280V298M281.5 279V299M282.5 280V297M283.5 279V296M284.5 281V296M285.5 280V300M286.5 281V299M287.5 281V310M288.5 281V309M289.5 281V310M290.5 282V298M291.5 278V297M292.5 279V298M293.5 278V299M294.5 282V299M295.5 281V299M296.5 268V299M297.5 269V297M298.5 268V293M299.5 279V297M300.5 279V299M301.5 279V298M302.5 279V299M303.5 279V298M304.5 281V301M305.5 280V300M306.5 281V301M307.5 274V297M308.5 275V297M309.5 274V300M310.5 278V301M311.5 276V300M312.5 277V301M313.5 276V299M314.5 279V299M315.5 279V299M316.5 280V300M317.5 281V299M318.5 280V300M319.5 280V298M320.5 280V297M321.5 276V298M322.5 277V297M323.5 276V300M324.5 278V299M325.5 281V300M326.5 270V309M327.5 271V313M328.5 270V312M329.5 280V313M330.5 279V301M331.5 278V300M332.5 275V301M333.5 276V304M334.5 275V303M335.5 281V304M336.5 276V298M337.5 277V298M338.5 276V299M339.5 278V298M340.5 279V301M341.5 278V300M342.5 279V301M343.5 282V301M344.5 278V300M345.5 279V301M346.5 278V297M347.5 283V305M348.5 282V314M349.5 283V313M350.5 280V314M351.5 281V302M352.5 277V298M353.5 278V300M354.5 276V302M355.5 277V302M356.5 276V304M357.5 281V303M358.5 280V304M359.5 276V302M360.5 277V301M361.5 276V307M362.5 268V306M363.5 269V307M364.5 268V303M365.5 277V305M366.5 278V304M367.5 277V305M368.5 281V303M369.5 280V305M370.5 272V304M371.5 273V305M372.5 272V304M373.5 276V300M374.5 277V317M375.5 276V316M376.5 276V317M377.5 277V298M378.5 276V298M379.5 279V298M380.5 279V302M381.5 279V308M382.5 273V307M383.5 274V310M384.5 273V309M385.5 274V310M386.5 270V304M387.5 271V303M388.5 269V304M389.5 270V302M390.5 269V301M391.5 275V302M392.5 278V299M393.5 275V300M394.5 276V296M395.5 275V299M396.5 279V314M397.5 277V313M398.5 271V314M399.5 272V299M400.5 271V298M401.5 272V300M402.5 273V306M403.5 272V305M404.5 273V306M405.5 272V303M406.5 277V305M407.5 276V304M408.5 273V306M409.5 274V305M410.5 273V309M411.5 281V308M412.5 273V311M413.5 274V310M414.5 272V311M415.5 273V310M416.5 272V304M417.5 276V303M418.5 275V304M419.5 279V303M420.5 282V302M421.5 282V300M422.5 279V305M423.5 277V304M424.5 278V305M425.5 273V307M426.5 274V306M427.5 273V307M428.5 276V303M429.5 275V302M430.5 278V303M431.5 279V304M432.5 278V303M433.5 280V304M434.5 277V302M435.5 274V301M436.5 275V302M437.5 274V313M438.5 278V312M439.5 277V313M440.5 278V305M441.5 278V304M442.5 277V305M443.5 278V301M444.5 273V300M445.5 274V301M446.5 273V298M447.5 281V307M448.5 275V306M449.5 276V307M450.5 275V303M451.5 279V304M452.5 280V301M453.5 279V301M454.5 282V300M455.5 282V301M456.5 280V299M457.5 279V301M458.5 280V300M459.5 279V301M460.5 278V297M461.5 274V296M462.5 275V297M463.5 274V296M464.5 282V297M465.5 282V296M466.5 279V297M467.5 280V297M468.5 279V296M469.5 281V297M470.5 280V297M471.5 282V301M472.5 282V300M473.5 283V301M474.5 280V296M475.5 277V297M476.5 278V295M477.5 277V297M478.5 280V296M479.5 281V300M480.5 282V299M481.5 282V301M482.5 282V300M483.5 281V301M484.5 282V299M485.5 281V298M486.5 281V299M487.5 280V296M488.5 280V301M489.5 280V302M490.5 280V301M491.5 281V302M492.5 281V298M493.5 282V299M494.5 281V300M495.5 281V299M496.5 282V300M497.5 281V297M498.5 283V296M499.5 281V297M500.5 279V296M501.5 280V297M502.5 279V296M503.5 282V297M504.5 281V297M505.5 281V297M506.5 280V297M507.5 281V295M508.5 280V298M509.5 281V297M510.5 278V301M511.5 279V300M512.5 278V301M513.5 282V300M514.5 282V299M515.5 281V300M516.5 282V296M517.5 281V301M518.5 278V300M519.5 279V301M520.5 278V298M521.5 283V297M522.5 284V298M523.5 281V295M524.5 282V298M525.5 280V297M526.5 281V298M527.5 280V297M528.5 279V301M529.5 280V300M530.5 278V301M531.5 279V299M532.5 278V298M533.5 279V299M534.5 282V298M535.5 281V299M536.5 283V298M537.5 280V299M538.5 281V298M539.5 277V299M540.5 278V298M541.5 271V299M542.5 272V298M543.5 271V300M544.5 280V299M545.5 279V300M546.5 282V295M547.5 281V296M548.5 280V296M549.5 281V296M550.5 279V297M551.5 280V297M552.5 278V299M553.5 279V298M554.5 278V299M555.5 282V295M556.5 281V294M557.5 283V294M558.5 278V299M559.5 279V298M560.5 278V299M561.5 283V296M562.5 282V298M563.5 280V298M564.5 271V298M565.5 272V298M566.5 271V296M567.5 282V297M568.5 278V294M569.5 279V295M570.5 278V296M571.5 283V298M572.5 282V299M573.5 283V298M574.5 277V299M575.5 278V296M576.5 277V299M577.5 281V298M578.5 282V299M579.5 281V295M580.5 281V300M581.5 280V299M582.5 281V300M583.5 280V296M584.5 280V295M585.5 281V296M586.5 277V297M587.5 278V296M588.5 277V297M589.5 280V294M590.5 279V294M591.5 283V299M592.5 282V298M593.5 284V299M594.5 281V295M595.5 282V299M596.5 281V298M597.5 282V299M598.5 279V300M599.5 280V299M600.5 279V300M601.5 279V295M602.5 280V297M603.5 279V296M604.5 281V297M605.5 283V300M606.5 284V299M607.5 281V300M608.5 282V300M609.5 281V301M610.5 281V300M611.5 282V301M612.5 281V296M613.5 283V297M614.5 282V296M615.5 283V296M616.5 282V295M617.5 283V297M618.5 284V296M619.5 280V300M620.5 281V299M621.5 280V300M622.5 283V296M623.5 281V297M624.5 282V296M625.5 281V299M626.5 282V299M627.5 282V299M628.5 282V299M629.5 282V295M630.5 282V295M631.5 283V295M632.5 274V298M633.5 275V297M634.5 274V298M635.5 278V295M636.5 277V295M637.5 280V296M638.5 280V297M639.5 281V296M640.5 280V297M641.5 282V301M642.5 281V300M643.5 282V301M644.5 281V293M645.5 280V298M646.5 281V300M647.5 280V299M648.5 282V300M649.5 282V297M650.5 283V302M651.5 282V301M652.5 279V302M653.5 279V297M654.5 279V298M655.5 279V297M656.5 280V297M657.5 281V296M658.5 280V296M659.5 278V297M660.5 279V297M661.5 278V297M662.5 282V297M663.5 282V296M664.5 282V297M665.5 284V300M666.5 271V299M667.5 272V300M668.5 271V298M669.5 283V297M670.5 280V298M671.5 281V295M672.5 280V295M673.5 284V295M674.5 283V296M675.5 282V296M676.5 283V296M677.5 282V296M678.5 280V294M679.5 281V295M680.5 280V298M681.5 281V299M682.5 280V298M683.5 283V299M684.5 273V302M685.5 274V301M686.5 273V302M687.5 282V297M688.5 284V298M689.5 278V299M690.5 279V298M691.5 278V299M692.5 279V295M693.5 278V300M694.5 283V299M695.5 281V300M696.5 282V300M697.5 281V299M698.5 282V300M699.5 281V296M700.5 282V296M701.5 281V296M702.5 282V298M703.5 279V300M704.5 280V299M705.5 279V303M706.5 284V302M707.5 279V303M708.5 280V300M709.5 277V298M710.5 278V296M711.5 277V297M712.5 279V295M713.5 280V296M714.5 279V297M715.5 277V296M716.5 278V297M717.5 277V295M718.5 280V294M719.5 281V298M720.5 280V297M721.5 283V298M722.5 282V296M723.5 280V298M724.5 281V297M725.5 280V298M726.5 281V297M727.5 279V298M728.5 280V297M729.5 279V298M730.5 284V296M731.5 279V298M732.5 275V297M733.5 276V298M734.5 275V296M735.5 281V298M736.5 282V297M737.5 281V298M738.5 280V297M739.5 281V298M740.5 280V300M741.5 281V302M742.5 283V301M743.5 280V302M744.5 281V295M745.5 280V295M746.5 283V300M747.5 284V299M748.5 282V300M749.5 282V296M750.5 275V296M751.5 276V296M752.5 275V295M753.5 282V294M754.5 281V296M755.5 282V295M756.5 281V298M757.5 283V299M758.5 282V298M759.5 284V299M760.5 284V298M761.5 282V297M762.5 281V298M763.5 280V297M764.5 281V300M765.5 278V299M766.5 275V300M767.5 276V296M768.5 275V296M769.5 283V297M770.5 278V296M771.5 279V297M772.5 278V296M773.5 282V296M774.5 281V296M775.5 282V296M776.5 283V295M777.5 282V297M778.5 279V296M779.5 280V297M780.5 278V296M781.5 279V296M782.5 278V299M783.5 283V298M784.5 282V299M785.5 283V298M786.5 275V299M787.5 276V294M788.5 275V295M789.5 282V298M790.5 283V299M791.5 282V298M792.5 277V299M793.5 278V298M794.5 277V299M795.5 278V298M796.5 281V297M797.5 282V298M798.5 281V296M799.5 280V296M800.5 281V296M801.5 280V295M802.5 281V298M803.5 280V297M804.5 283V298M805.5 284V296M806.5 280V297M807.5 279V296M808.5 280V297M809.5 279V294M810.5 271V294M811.5 272V297M812.5 271V314M813.5 277V313M814.5 279V314M815.5 280V304M816.5 265V305M817.5 266V304M818.5 265V305M819.5 276V296M820.5 280V297M821.5 279V299M822.5 269V310M823.5 264V309M824.5 265V310M825.5 264V303M826.5 274V304M827.5 273V306M828.5 281V305M829.5 276V306M830.5 277V302M831.5 272V300M832.5 273V301M833.5 272V296M834.5 280V303M835.5 279V302M836.5 280V303M837.5 279V299M838.5 281V298M839.5 280V299M840.5 284V298M841.5 283V297M842.5 284V298M843.5 283V296M844.5 284V297M845.5 283V300M846.5 282V299M847.5 283V300M848.5 282V296M849.5 274V295M850.5 275V296M851.5 274V298M852.5 278V297M853.5 282V298M854.5 280V294M855.5 278V295M856.5 279V298M857.5 278V297M858.5 281V298M859.5 282V297M860.5 281V296M861.5 283V307M862.5 282V306M863.5 281V307M864.5 280V297M865.5 281V300M866.5 280V299M867.5 280V300M868.5 281V298M869.5 279V298M870.5 280V304M871.5 279V303M872.5 276V304M873.5 277V296M874.5 276V296M875.5 281V296M876.5 283V299M877.5 283V298M878.5 282V299M879.5 276V299M880.5 277V300M881.5 276V299M882.5 275V300M883.5 276V299M884.5 275V298M885.5 279V299M886.5 278V302M887.5 276V301M888.5 277V302M889.5 276V299M890.5 282V295M891.5 283V296M892.5 284V297M893.5 283V297M894.5 281V297M895.5 282V297M896.5 281V296M897.5 282V297M898.5 283V298M899.5 282V297M900.5 282V301M901.5 279V300M902.5 280V301M903.5 279V296M904.5 281V295M905.5 277V297M906.5 278V296M907.5 277V302M908.5 281V301M909.5 282V302M910.5 281V301M911.5 282V295M912.5 282V294M913.5 280V295M914.5 280V296M915.5 280V298M916.5 280V297M917.5 282V298M918.5 282V297M919.5 283V298M920.5 278V296M921.5 279V300M922.5 278V299M923.5 276V300M924.5 277V298M925.5 276V299M926.5 283V304M927.5 282V303M928.5 284V304M929.5 280V299M930.5 281V300M931.5 280V296M932.5 280V295M933.5 281V294M934.5 279V297M935.5 280V297M936.5 279V297M937.5 271V299M938.5 272V298M939.5 271V299M940.5 282V303M941.5 280V302M942.5 281V303M943.5 279V305M944.5 280V304M945.5 279V305M946.5 282V300M947.5 282V306M948.5 282V305M949.5 275V306M950.5 276V300M951.5 275V299M952.5 277V300M953.5 278V296M954.5 277V295M955.5 282V308M956.5 282V307M957.5 282V308M958.5 276V298M959.5 277V299M960.5 275V294M961.5 276V296M962.5 275V299M963.5 277V298M964.5 281V299M965.5 281V298M966.5 282V296M967.5 281V299M968.5 282V298M969.5 282V299M970.5 281V299M971.5 282V298M972.5 281V299M973.5 281V300M974.5 282V299M975.5 281V300M976.5 277V297M977.5 278V300M978.5 277V299M979.5 279V300M980.5 279V298M981.5 282V297M982.5 281V301M983.5 282V300M984.5 275V301M985.5 275V299M986.5 275V302M987.5 275V301M988.5 276V302M989.5 280V296M990.5 280V296M991.5 280V296M992.5 280V296M993.5 280V295M994.5 279V296M995.5 280V296M996.5 279V296M997.5 279V297M998.5 280V302M999.5 279V301M1000.5 283V302M1001.5 270V298M1002.5 271V295M1003.5 270V296M1004.5 279V295M1005.5 279V296M1006.5 280V296M1007.5 279V299M1008.5 279V298M1009.5 280V299M1010.5 279V300M1011.5 278V299M1012.5 279V300M1013.5 278V297M1014.5 281V298M1015.5 279V297M1016.5 280V298M1017.5 279V298M1018.5 282V298M1019.5 283V298M1020.5 281V297M1021.5 282V302M1022.5 281V301M1023.5 279V302M1024.5 280V297M1025.5 279V297M1026.5 278V297M1027.5 279V297M1028.5 278V296M1029.5 281V297M1030.5 279V301M1031.5 278V300M1032.5 279V301M1033.5 278V301M1034.5 281V302M1035.5 282V302M1036.5 279V302M1037.5 276V302M1038.5 277V301M1039.5 276V308M1040.5 279V307M1041.5 280V308M1042.5 279V299M1043.5 280V298M1044.5 279V303M1045.5 277V302M1046.5 278V303M1047.5 277V298M1048.5 279V297M1049.5 280V298M1050.5 279V295M1051.5 280V296M1052.5 276V295M1053.5 277V299M1054.5 276V298M1055.5 282V299M1056.5 279V299M1057.5 280V298M1058.5 279V299M1059.5 279V296M1060.5 279V303M1061.5 279V302M1062.5 279V303M1063.5 280V299M1064.5 279V300M1065.5 280V296M1066.5 279V296M1067.5 283V296M1068.5 282V296M1069.5 283V300M1070.5 282V307M1071.5 283V306M1072.5 280V307M1073.5 274V299M1074.5 275V296M1075.5 274V295M1076.5 280V296M1077.5 281V297M1078.5 277V298M1079.5 278V297M1080.5 277V298M1081.5 279V297M1082.5 280V298M1083.5 279V294M1084.5 281V295M1085.5 280V294M1086.5 281V294M1087.5 280V294M1088.5 283V298M1089.5 282V304M1090.5 283V303M1091.5 282V304M1092.5 283V297M1093.5 278V297M1094.5 279V298M1095.5 278V297M1096.5 281V298M1097.5 283V297M1098.5 280V298M1099.5 281V295M1100.5 280V297M1101.5 280V296M1102.5 281V297M1103.5 280V296M1104.5 281V295M1105.5 282V295M1106.5 281V296M1107.5 282V297M1108.5 283V296M1109.5 280V297M1110.5 280V308M1111.5 280V307M1112.5 280V308M1113.5 281V297M1114.5 277V298M1115.5 278V297M1116.5 274V296M1117.5 272V295M1118.5 273V296M1119.5 272V295M1120.5 276V294M1121.5 277V295M1122.5 276V295M1123.5 277V294M1124.5 277V295M1125.5 276V295M1126.5 277V294M1127.5 276V295M1128.5 277V298M1129.5 278V297M1130.5 276V298M1131.5 275V294M1132.5 276V295M1133.5 275V293M1134.5 277V297M1135.5 276V296M1136.5 278V297M1137.5 278V291M1138.5 278V295M1139.5 276V294M1140.5 276V295" stroke="#00ff66" stroke-width="1"/>
<path d="M414 247.5V290" stroke="#00ff66" stroke-width="2"/>
<path d="M399.5 257V290" stroke="#00ff66" stroke-width="2"/>
<path d="M424 259V290" stroke="#00ff66" stroke-width="2"/>
<path d="M432 259V290" stroke="#00ff66" stroke-width="2"/>
<path d="M443 260V290" stroke="#00ff66" stroke-width="2"/>
<path d="M522 275V314" stroke="#00ff66" stroke-width="2"/>
<path d="M618 288V312" stroke="#00ff66" stroke-width="2"/>
<path d="M637.5 288V334" stroke="#00ff66" stroke-width="2"/>
<path d="M663 249V290" stroke="#00ff66" stroke-width="2"/>
<path d="M816.5 249V322" stroke="#00ff66" stroke-width="2"/>
<path d="M828 262V311" stroke="#00ff66" stroke-width="2"/>
<path d="M972.5 288V321" stroke="#00ff66" stroke-width="2"/>
<path d="M980.5 288V324" stroke="#00ff66" stroke-width="2"/>
<path d="M1001.5 288V325" stroke="#00ff66" stroke-width="2"/>
<path d="M1026.5 288V307.5" stroke="#00ff66" stroke-width="2"/>
<path d="M1058 288V306" stroke="#00ff66" stroke-width="2"/>
<path d="M1119 191V300" stroke="#00ff66" stroke-width="2"/>
<path d="M1119 185V188" stroke="#00ff66" stroke-width="3"/>
<path d="M1133 203V290" stroke="#00ff66" stroke-width="1"/>
<path d="M1115 263V290" stroke="#00ff66" stroke-width="3"/>
</g>
<g fill="none" stroke="#0080ff" stroke-width="1" shape-rendering="crispEdges">
<path d="M160.5 306V308M161.5 306V308M162.5 306V308M163.5 306V308M164.5 306V308M165.5 305V308M166.5 305V308M167.5 305V307M168.5 305V307M169.5 305V307M170.5 304V307M171.5 303V307M172.5 303V306M173.5 302V305M174.5 301V305M175.5 301V304M176.5 300V303M177.5 299V303M178.5 299V302M179.5 298V301M180.5 297V301M181.5 296V300M182.5 295V299M183.5 294V298M184.5 294V297M185.5 293V296M186.5 292V296M187.5 291V295M188.5 290V294M189.5 289V293M190.5 288V292M191.5 287V291M192.5 285V290M193.5 284V289M194.5 283V287M195.5 282V286M196.5 280V285M197.5 279V284M198.5 278V282M199.5 277V281M200.5 275V280M201.5 274V279M202.5 272V277M203.5 271V276M204.5 270V274M205.5 268V273M206.5 267V272M207.5 266V270M208.5 264V269M209.5 263V268M210.5 262V266M211.5 260V265M212.5 259V264M213.5 257V262M214.5 256V261M215.5 255V259M216.5 253V258M217.5 252V257M218.5 250V255M219.5 249V254M220.5 248V252M221.5 246V251M222.5 245V250M223.5 243V248M224.5 242V247M225.5 240V245M226.5 239V244M227.5 238V242M228.5 237V241M229.5 236V240M230.5 235V239M231.5 234V238M232.5 233V237M233.5 231V236M234.5 230V235M235.5 229V233M236.5 228V232M237.5 227V231M238.5 226V230M239.5 225V229M240.5 224V228M241.5 223V227M242.5 222V226M243.5 221V225M244.5 220V224M245.5 218V223M246.5 217V222M247.5 216V220M248.5 215V219M249.5 214V218M250.5 213V217M251.5 212V216M252.5 211V215M253.5 210V214M254.5 210V213M255.5 209V212M256.5 208V212M257.5 207V211M258.5 206V210M259.5 205V209M260.5 205V208M261.5 204V207M262.5 204V207M263.5 203V206M264.5 203V206M265.5 202V205M266.5 202V205M267.5 201V204M268.5 201V204M269.5 200V203M270.5 200V203M271.5 199V202M272.5 199V202M273.5 199V201M274.5 199V201M275.5 198V201M276.5 198V201M277.5 198V200M278.5 197V200M279.5 197V200M280.5 197V199M281.5 197V199M282.5 197V199M283.5 196V199M284.5 196V199M285.5 196V198M286.5 196V198M287.5 196V198M288.5 196V198M289.5 196V198M290.5 195V198M291.5 195V198M292.5 195V197M293.5 195V197M294.5 195V197M295.5 195V197M296.5 195V197M297.5 195V197M298.5 195V197M299.5 195V197M300.5 195V197M301.5 195V197M302.5 195V197M303.5 195V197M304.5 195V197M305.5 195V197M306.5 195V197M307.5 195V197M308.5 195V197M309.5 195V197M310.5 195V197M311.5 195V197M312.5 195V197M313.5 195V197M314.5 195V197M315.5 195V197M316.5 195V197M317.5 195V197M318.5 195V197M319.5 195V197M320.5 194V197M321.5 194V197M322.5 194V196M323.5 194V196M324.5 194V196M325.5 194V196M326.5 194V196M327.5 194V196M328.5 194V196M329.5 194V196M330.5 194V196M331.5 194V196M332.5 194V196M333.5 194V196M334.5 194V196M335.5 194V196M336.5 194V196M337.5 194V196M338.5 194V196M339.5 194V196M340.5 193V196M341.5 193V196M342.5 193V195M343.5 193V195M344.5 193V195M345.5 192V195M346.5 192V195M347.5 192V194M348.5 192V194M349.5 192V194M350.5 191V194M351.5 191V194M352.5 191V193M353.5 191V193M354.5 191V193M355.5 190V193M356.5 190V193M357.5 190V192M358.5 190V192M359.5 190V192M360.5 190V192M361.5 189V192M362.5 189V192M363.5 189V191M364.5 189V191M365.5 189V191M366.5 188V191M367.5 188V191M368.5 188V190M369.5 188V190M370.5 187V190M371.5 187V190M372.5 187V189M373.5 187V189M374.5 186V189M375.5 186V189M376.5 186V188M377.5 186V188M378.5 185V188M379.5 185V188M380.5 185V187M381.5 185V187M382.5 184V187M383.5 184V187M384.5 184V186M385.5 184V186M386.5 183V186M387.5 183V186M388.5 183V185M389.5 183V185M390.5 182V185M391.5 182V185M392.5 181V184M393.5 181V184M394.5 181V183M395.5 180V183M396.5 180V183M397.5 180V182M398.5 179V182M399.5 179V182M400.5 179V181M401.5 178V181M402.5 178V181M403.5 178V180M404.5 178V180M405.5 177V180M406.5 177V180M407.5 177V179M408.5 176V179M409.5 176V179M410.5 176V178M411.5 175V178M412.5 175V178M413.5 175V177M414.5 175V177M415.5 174V177M416.5 174V177M417.5 174V176M418.5 173V176M419.5 173V176M420.5 173V175M421.5 173V175M422.5 172V175M423.5 172V175M424.5 172V174M425.5 172V174M426.5 171V174M427.5 171V174M428.5 171V173M429.5 171V173M430.5 171V173M431.5 170V173M432.5 170V173M433.5 170V172M434.5 170V172M435.5 169V172M436.5 169V172M437.5 169V171M438.5 169V171M439.5 169V171M440.5 168V171M441.5 168V171M442.5 168V170M443.5 168V170M444.5 167V170M445.5 167V170M446.5 167V169M447.5 167V169M448.5 166V169M449.5 166V169M450.5 166V168M451.5 166V168M452.5 166V168M453.5 165V168M454.5 165V168M455.5 165V167M456.5 165V167M457.5 164V167M458.5 164V167M459.5 164V166M460.5 164V166M461.5 164V166M462.5 163V166M463.5 163V166M464.5 163V165M465.5 163V165M466.5 163V165M467.5 162V165M468.5 162V165M469.5 162V164M470.5 162V164M471.5 162V164M472.5 161V164M473.5 161V164M474.5 161V163M475.5 161V163M476.5 161V163M477.5 160V163M478.5 160V163M479.5 160V162M480.5 160V162M481.5 160V162M482.5 159V162M483.5 159V162M484.5 159V161M485.5 159V161M486.5 159V161M487.5 159V161M488.5 158V161M489.5 158V161M490.5 158V160M491.5 158V160M492.5 158V160M493.5 158V160M494.5 157V160M495.5 157V160M496.5 157V159M497.5 157V159M498.5 157V159M499.5 157V159M500.5 156V159M501.5 156V159M502.5 156V158M503.5 156V158M504.5 156V158M505.5 156V158M506.5 155V158M507.5 155V158M508.5 155V157M509.5 155V157M510.5 155V157M511.5 155V157M512.5 155V157M513.5 155V157M514.5 155V157M515.5 155V157M516.5 155V157M517.5 155V157M518.5 155V157M519.5 155V157M520.5 155V157M521.5 155V157M522.5 155V157M523.5 155V157M524.5 155V157M525.5 155V157M526.5 155V157M527.5 155V157M528.5 155V157M529.5 155V157M530.5 155V157M531.5 155V157M532.5 155V157M533.5 155V157M534.5 155V157M535.5 155V157M536.5 155V157M537.5 155V157M538.5 155V157M539.5 155V157M540.5 155V157M541.5 155V157M542.5 155V157M543.5 155V158M544.5 155V158M545.5 156V158M546.5 156V158M547.5 156V158M548.5 156V158M549.5 156V158M550.5 156V159M551.5 156V159M552.5 157V159M553.5 157V159M554.5 157V159M555.5 157V159M556.5 157V159M557.5 157V159M558.5 157V160M559.5 157V160M560.5 158V160M561.5 158V160M562.5 158V160M563.5 158V160M564.5 158V160M565.5 158V160M566.5 158V161M567.5 158V161M568.5 159V161M569.5 159V161M570.5 159V161M571.5 159V161M572.5 159V161M573.5 159V161M574.5 159V161M575.5 159V162M576.5 159V162M577.5 160V162M578.5 160V162M579.5 160V162M580.5 160V162M581.5 160V162M582.5 160V162M583.5 160V162M584.5 160V162M585.5 160V162M586.5 160V162M587.5 160V162M588.5 160V162M589.5 160V163M590.5 160V163M591.5 161V163M592.5 161V163M593.5 161V163M594.5 161V163M595.5 161V163M596.5 161V163M597.5 161V163M598.5 161V163M599.5 161V163M600.5 161V163M601.5 161V163M602.5 161V163M603.5 161V163M604.5 161V163M605.5 161V163M606.5 161V163M607.5 161V163M608.5 161V163M609.5 161V163M610.5 161V163M611.5 161V163M612.5 161V163M613.5 161V163M614.5 161V163M615.5 161V163M616.5 161V163M617.5 161V163M618.5 161V163M619.5 161V163M620.5 161V163M621.5 161V163M622.5 161V163M623.5 161V163M624.5 161V163M625.5 160V163M626.5 160V163M627.5 160V162M628.5 160V162M629.5 160V162M630.5 160V162M631.5 160V162M632.5 160V162M633.5 160V162M634.5 160V162M635.5 160V162M636.5 160V162M637.5 160V162M638.5 160V162M639.5 160V162M640.5 160V162M641.5 160V162M642.5 160V162M643.5 160V162M644.5 160V162M645.5 160V162M646.5 159V162M647.5 159V162M648.5 159V161M649.5 159V161M650.5 159V161M651.5 159V161M652.5 159V161M653.5 159V161M654.5 159V161M655.5 159V161M656.5 159V161M657.5 159V161M658.5 159V161M659.5 159V161M660.5 159V161M661.5 159V161M662.5 159V161M663.5 159V161M664.5 159V161M665.5 159V161M666.5 159V161M667.5 159V161M668.5 159V161M669.5 159V161M670.5 158V161M671.5 158V161M672.5 158V160M673.5 158V160M674.5 158V160M675.5 158V160M676.5 158V160M677.5 158V160M678.5 158V160M679.5 158V160M680.5 158V160M681.5 158V160M682.5 158V160M683.5 158V160M684.5 158V160M685.5 158V160M686.5 158V160M687.5 158V160M688.5 158V160M689.5 158V160M690.5 158V160M691.5 158V160M692.5 158V160M693.5 158V160M694.5 158V160M695.5 158V160M696.5 158V160M697.5 158V160M698.5 158V160M699.5 158V161M700.5 158V161M701.5 158V161M702.5 158V160M703.5 158V160M704.5 158V160M705.5 158V160M706.5 158V160M707.5 158V160M708.5 158V160M709.5 158V160M710.5 158V160M711.5 158V160M712.5 158V160M713.5 158V160M714.5 158V160M715.5 158V160M716.5 158V160M717.5 158V160M718.5 158V160M719.5 158V160M720.5 158V160M721.5 158V160M722.5 158V160M723.5 158V160M724.5 158V160M725.5 158V160M726.5 157V160M727.5 157V160M728.5 157V159M729.5 157V159M730.5 157V159M731.5 157V159M732.5 157V159M733.5 157V159M734.5 157V159M735.5 157V159M736.5 157V159M737.5 157V159M738.5 157V159M739.5 157V159M740.5 156V159M741.5 156V159M742.5 156V158M743.5 156V158M744.5 156V158M745.5 156V158M746.5 156V158M747.5 156V158M748.5 155V158M749.5 155V158M750.5 155V157M751.5 155V157M752.5 155V157M753.5 155V157M754.5 155V157M755.5 155V157M756.5 154V157M757.5 154V157M758.5 154V156M759.5 154V156M760.5 154V156M761.5 154V156M762.5 154V156M763.5 154V156M764.5 153V156M765.5 153V156M766.5 153V155M767.5 153V155M768.5 153V155M769.5 153V155M770.5 153V155M771.5 153V155M772.5 152V155M773.5 152V155M774.5 152V154M775.5 152V154M776.5 152V154M777.5 152V154M778.5 152V154M779.5 152V154M780.5 151V154M781.5 151V154M782.5 151V153M783.5 151V153M784.5 151V153M785.5 151V153M786.5 151V153M787.5 151V153M788.5 150V153M789.5 150V153M790.5 150V152M791.5 150V152M792.5 150V152M793.5 150V152M794.5 150V152M795.5 150V152M796.5 149V152M797.5 149V152M798.5 149V151M799.5 149V151M800.5 149V151M801.5 149V151M802.5 149V151M803.5 149V151M804.5 149V151M805.5 148V151M806.5 148V151M807.5 148V150M808.5 148V150M809.5 148V150M810.5 148V150M811.5 148V150M812.5 148V150M813.5 148V150M814.5 148V150M815.5 147V150M816.5 147V150M817.5 147V149M818.5 147V149M819.5 147V149M820.5 147V149M821.5 147V149M822.5 147V149M823.5 147V149M824.5 147V149M825.5 146V149M826.5 146V149M827.5 146V148M828.5 146V148M829.5 146V148M830.5 146V148M831.5 146V148M832.5 146V148M833.5 146V148M834.5 146V148M835.5 146V148M836.5 145V148M837.5 145V148M838.5 145V147M839.5 145V147M840.5 145V147M841.5 145V147M842.5 145V147M843.5 145V147M844.5 145V147M845.5 144V147M846.5 144V147M847.5 144V146M848.5 144V146M849.5 144V146M850.5 144V146M851.5 144V146M852.5 144V146M853.5 144V146M854.5 143V146M855.5 143V146M856.5 143V145M857.5 143V145M858.5 143V145M859.5 143V145M860.5 143V145M861.5 143V145M862.5 143V145M863.5 142V145M864.5 142V145M865.5 142V144M866.5 142V144M867.5 142V144M868.5 142V144M869.5 142V144M870.5 142V144M871.5 142V144M872.5 142V144M873.5 141V144M874.5 141V144M875.5 141V143M876.5 141V143M877.5 141V143M878.5 141V143M879.5 141V143M880.5 141V143M881.5 141V143M882.5 141V143M883.5 140V143M884.5 140V143M885.5 140V142M886.5 140V142M887.5 140V142M888.5 140V142M889.5 140V142M890.5 140V142M891.5 140V142M892.5 140V142M893.5 140V142M894.5 139V142M895.5 139V142M896.5 139V141M897.5 139V141M898.5 139V141M899.5 139V141M900.5 139V141M901.5 139V141M902.5 139V141M903.5 139V141M904.5 139V141M905.5 138V141M906.5 138V141M907.5 138V140M908.5 138V140M909.5 138V140M910.5 138V140M911.5 138V140M912.5 138V140M913.5 138V140M914.5 138V140M915.5 138V140M916.5 137V140M917.5 137V140M918.5 137V139M919.5 137V139M920.5 137V139M921.5 137V139M922.5 137V139M923.5 137V139M924.5 137V139M925.5 137V139M926.5 137V139M927.5 137V139M928.5 137V139M929.5 137V139M930.5 137V139M931.5 137V139M932.5 137V139M933.5 137V139M934.5 137V139M935.5 137V139M936.5 137V139M937.5 137V139M938.5 137V139M939.5 137V139M940.5 137V139M941.5 137V139M942.5 137V139M943.5 137V139M944.5 137V139M945.5 137V139M946.5 137V139M947.5 137V139M948.5 137V139M949.5 137V140M950.5 137V140M951.5 138V140M952.5 138V140M953.5 138V140M954.5 138V140M955.5 138V140M956.5 138V140M957.5 138V140M958.5 138V140M959.5 138V140M960.5 138V140M961.5 138V140M962.5 138V140M963.5 138V140M964.5 138V140M965.5 138V140M966.5 138V140M967.5 138V140M968.5 138V140M969.5 138V141M970.5 138V141M971.5 139V141M972.5 139V141M973.5 139V141M974.5 139V141M975.5 139V141M976.5 139V141M977.5 139V141M978.5 139V141M979.5 139V141M980.5 139V141M981.5 139V141M982.5 139V141M983.5 139V141M984.5 139V141M985.5 139V141M986.5 139V141M987.5 139V141M988.5 139V141M989.5 139V141M990.5 138V141M991.5 138V141M992.5 138V140M993.5 138V140M994.5 138V140M995.5 138V140M996.5 138V140M997.5 138V140M998.5 138V140M999.5 138V140M1000.5 138V140M1001.5 138V140M1002.5 137V140M1003.5 137V140M1004.5 137V139M1005.5 137V139M1006.5 137V139M1007.5 136V139M1008.5 136V139M1009.5 136V138M1010.5 136V138M1011.5 136V138M1012.5 135V138M1013.5 135V138M1014.5 135V137M1015.5 135V137M1016.5 135V137M1017.5 134V137M1018.5 134V137M1019.5 134V136M1020.5 134V136M1021.5 134V136M1022.5 133V136M1023.5 133V136M1024.5 133V135M1025.5 133V135M1026.5 132V135M1027.5 132V135M1028.5 132V134M1029.5 132V134M1030.5 131V134M1031.5 131V134M1032.5 131V133M1033.5 131V133M1034.5 130V133M1035.5 130V133M1036.5 130V132M1037.5 130V132M1038.5 129V132M1039.5 129V132M1040.5 129V131M1041.5 129V131M1042.5 128V131M1043.5 128V131M1044.5 128V130M1045.5 128V130M1046.5 127V130M1047.5 127V130M1048.5 127V129M1049.5 127V129M1050.5 127V129M1051.5 126V129M1052.5 126V129M1053.5 126V128M1054.5 126V128M1055.5 125V128M1056.5 125V128M1057.5 125V127M1058.5 125V127M1059.5 125V127M1060.5 124V127M1061.5 124V127M1062.5 124V126M1063.5 124V126M1064.5 124V126M1065.5 123V126M1066.5 123V126M1067.5 123V125M1068.5 123V125M1069.5 123V125M1070.5 123V125M1071.5 122V125M1072.5 122V125M1073.5 122V124M1074.5 122V124M1075.5 122V124M1076.5 122V124M1077.5 121V124M1078.5 121V124M1079.5 121V123M1080.5 121V123M1081.5 121V123M1082.5 121V123M1083.5 121V123M1084.5 121V123M1085.5 120V123M1086.5 120V123M1087.5 120V122M1088.5 120V122M1089.5 120V122M1090.5 120V122M1091.5 120V122M1092.5 120V122M1093.5 120V122M1094.5 120V122M1095.5 119V122M1096.5 119V122M1097.5 119V121M1098.5 119V121M1099.5 119V121M1100.5 119V121M1101.5 119V121M1102.5 119V121M1103.5 119V121M1104.5 119V121M1105.5 119V121M1106.5 119V121M1107.5 119V121M1108.5 119V121M1109.5 119V121M1110.5 118V121M1111.5 118V121M1112.5 118V120M1113.5 118V120M1114.5 118V120M1115.5 118V120M1116.5 118V120M1117.5 118V120M1118.5 118V120M1119.5 118V120M1120.5 118V120M1121.5 118V120M1122.5 118V120M1123.5 118V120M1124.5 118V120M1125.5 118V120M1126.5 118V120M1127.5 118V120M1128.5 118V120M1129.5 118V120M1130.5 118V120M1131.5 118V120M1132.5 118V120M1133.5 118V120M1134.5 118V120M1135.5 118V120M1136.5 118V120M1137.5 118V120M1138.5 118V120M1139.5 118V120M1140.5 118V120"/>
</g>
<g fill="#0080ff" shape-rendering="crispEdges">
<rect x="1140" y="59" width="1" height="281"/>
<rect x="1130" y="334" width="10" height="1"/>
<rect x="1130" y="328" width="10" height="1"/>
<rect x="1130" y="323" width="10" height="1"/>
<rect x="1130" y="317" width="10" height="1"/>
<rect x="1130" y="312" width="10" height="1"/>
<rect x="1130" y="307" width="10" height="1"/>
<rect x="1119" y="301" width="21" height="1"/>
<rect x="1130" y="296" width="10" height="1"/>
<rect x="1130" y="290" width="10" height="1"/>
<rect x="1130" y="285" width="10" height="1"/>
<rect x="1130" y="279" width="10" height="1"/>
<rect x="1130" y="274" width="10" height="1"/>
<rect x="1130" y="268" width="10" height="1"/>
<rect x="1130" y="263" width="10" height="1"/>
<rect x="1130" y="258" width="10" height="1"/>
<rect x="1130" y="252" width="10" height="1"/>
<rect x="1119" y="247" width="21" height="1"/>
<rect x="1130" y="241" width="10" height="1"/>
<rect x="1130" y="236" width="10" height="1"/>
<rect x="1130" y="230" width="10" height="1"/>
<rect x="1130" y="225" width="10" height="1"/>
<rect x="1130" y="219" width="10" height="1"/>
<rect x="1130" y="214" width="10" height="1"/>
<rect x="1130" y="208" width="10" height="1"/>
<rect x="1130" y="203" width="10" height="1"/>
<rect x="1130" y="198" width="10" height="1"/>
<rect x="1119" y="192" width="21" height="1"/>
<rect x="1130" y="187" width="10" height="1"/>
<rect x="1130" y="181" width="10" height="1"/>
<rect x="1130" y="176" width="10" height="1"/>
<rect x="1130" y="170" width="10" height="1"/>
<rect x="1130" y="165" width="10" height="1"/>
<rect x="1130" y="159" width="10" height="1"/>
<rect x="1130" y="154" width="10" height="1"/>
<rect x="1130" y="149" width="10" height="1"/>
<rect x="1130" y="143" width="10" height="1"/>
<rect x="1119" y="138" width="21" height="1"/>
<rect x="1130" y="132" width="10" height="1"/>
<rect x="1130" y="127" width="10" height="1"/>
<rect x="1130" y="121" width="10" height="1"/>
<rect x="1130" y="116" width="10" height="1"/>
<rect x="1130" y="110" width="10" height="1"/>
<rect x="1130" y="105" width="10" height="1"/>
<rect x="1130" y="99" width="10" height="1"/>
<rect x="1130" y="94" width="10" height="1"/>
<rect x="1130" y="89" width="10" height="1"/>
<rect x="1119" y="83" width="21" height="1"/>
<rect x="1130" y="78" width="10" height="1"/>
<rect x="1130" y="72" width="10" height="1"/>
<rect x="1130" y="67" width="10" height="1"/>
<rect x="1130" y="61" width="10" height="1"/>
</g>
<text y="51" font-family="Liberation Sans, sans-serif" font-size="17.6" fill="#000" stroke="#fff" stroke-width="0.2" xml:space="preserve"><tspan x="185.5" textLength="94.0" lengthAdjust="spacingAndGlyphs">HD027382</tspan> <tspan x="310.2" textLength="114.2" lengthAdjust="spacingAndGlyphs">(2.3598351,</tspan> <tspan x="433.8" textLength="107.2" lengthAdjust="spacingAndGlyphs">51.395572,</tspan> <tspan x="550.5" textLength="106.0" lengthAdjust="spacingAndGlyphs">4869.4074,</tspan> <tspan x="666" textLength="106" lengthAdjust="spacingAndGlyphs">3.0239610,</tspan> <tspan x="782.6" textLength="12.6" lengthAdjust="spacingAndGlyphs">-</tspan><tspan x="795.0" textLength="132.0" lengthAdjust="spacingAndGlyphs">0.048878485,</tspan> <tspan x="936.5" textLength="121.5" lengthAdjust="spacingAndGlyphs">0.22860579)</tspan></text>
<text x="73.8" y="89.2" font-family="Liberation Sans, sans-serif" font-size="15.4" text-anchor="start" fill="#000" stroke="#fff" stroke-width="0.2" textLength="24.2" lengthAdjust="spacingAndGlyphs">1.5</text>
<text x="73.8" y="158.2" font-family="Liberation Sans, sans-serif" font-size="15.4" text-anchor="start" fill="#000" stroke="#fff" stroke-width="0.2" textLength="24.2" lengthAdjust="spacingAndGlyphs">1.0</text>
<text x="73.8" y="226.2" font-family="Liberation Sans, sans-serif" font-size="15.4" text-anchor="start" fill="#000" stroke="#fff" stroke-width="0.2" textLength="24.2" lengthAdjust="spacingAndGlyphs">0.5</text>
<text x="73.8" y="295.2" font-family="Liberation Sans, sans-serif" font-size="15.4" text-anchor="start" fill="#000" stroke="#fff" stroke-width="0.2" textLength="24.2" lengthAdjust="spacingAndGlyphs">0.0</text>
<text x="180.8" y="362" font-family="Liberation Sans, sans-serif" font-size="14" text-anchor="start" fill="#000" stroke="#fff" stroke-width="0.2" textLength="27.4" lengthAdjust="spacingAndGlyphs">400</text>
<text x="353.8" y="362" font-family="Liberation Sans, sans-serif" font-size="14" text-anchor="start" fill="#000" stroke="#fff" stroke-width="0.2" textLength="27.4" lengthAdjust="spacingAndGlyphs">500</text>
<text x="526.8" y="362" font-family="Liberation Sans, sans-serif" font-size="14" text-anchor="start" fill="#000" stroke="#fff" stroke-width="0.2" textLength="27.4" lengthAdjust="spacingAndGlyphs">600</text>
<text x="699.8" y="362" font-family="Liberation Sans, sans-serif" font-size="14" text-anchor="start" fill="#000" stroke="#fff" stroke-width="0.2" textLength="27.4" lengthAdjust="spacingAndGlyphs">700</text>
<text x="872.8" y="362" font-family="Liberation Sans, sans-serif" font-size="14" text-anchor="start" fill="#000" stroke="#fff" stroke-width="0.2" textLength="27.4" lengthAdjust="spacingAndGlyphs">800</text>
<text x="1045.8" y="362" font-family="Liberation Sans, sans-serif" font-size="14" text-anchor="start" fill="#000" stroke="#fff" stroke-width="0.2" textLength="27.4" lengthAdjust="spacingAndGlyphs">900</text>
<text x="1144.2" y="308.1" font-family="Liberation Sans, sans-serif" font-size="15.4" text-anchor="start" fill="#0080ff" stroke="#fff" stroke-width="0.2" textLength="24.2" lengthAdjust="spacingAndGlyphs">0.4</text>
<text x="1144.2" y="254.1" font-family="Liberation Sans, sans-serif" font-size="15.4" text-anchor="start" fill="#0080ff" stroke="#fff" stroke-width="0.2" textLength="24.2" lengthAdjust="spacingAndGlyphs">0.5</text>
<text x="1144.2" y="199.1" font-family="Liberation Sans, sans-serif" font-size="15.4" text-anchor="start" fill="#0080ff" stroke="#fff" stroke-width="0.2" textLength="24.2" lengthAdjust="spacingAndGlyphs">0.6</text>
<text x="1144.2" y="145.1" font-family="Liberation Sans, sans-serif" font-size="15.4" text-anchor="start" fill="#0080ff" stroke="#fff" stroke-width="0.2" textLength="24.2" lengthAdjust="spacingAndGlyphs">0.7</text>
<text x="1144.2" y="90.1" font-family="Liberation Sans, sans-serif" font-size="15.4" text-anchor="start" fill="#0080ff" stroke="#fff" stroke-width="0.2" textLength="24.2" lengthAdjust="spacingAndGlyphs">0.8</text>
<text y="382" font-family="Liberation Sans, sans-serif" font-size="14" fill="#000" stroke="#fff" stroke-width="0.2" xml:space="preserve"><tspan x="564.2" textLength="83.5" lengthAdjust="spacingAndGlyphs">wavelength,</tspan> <tspan x="656" textLength="22.6" lengthAdjust="spacingAndGlyphs">nm</tspan></text>
<text x="62" y="237" font-family="Liberation Sans, sans-serif" font-size="14" text-anchor="start" fill="#000" stroke="#fff" stroke-width="0.2" textLength="73.5" lengthAdjust="spacingAndGlyphs" transform="rotate(-90 62 237)">flux, units</text>
<text x="1184.3" y="222" font-family="Liberation Sans, sans-serif" font-size="14" text-anchor="start" fill="#0080ff" stroke="#fff" stroke-width="0.2" textLength="45" lengthAdjust="spacingAndGlyphs" transform="rotate(-90 1184.3 222)">mcont</text>
</svg>
</body></html>
